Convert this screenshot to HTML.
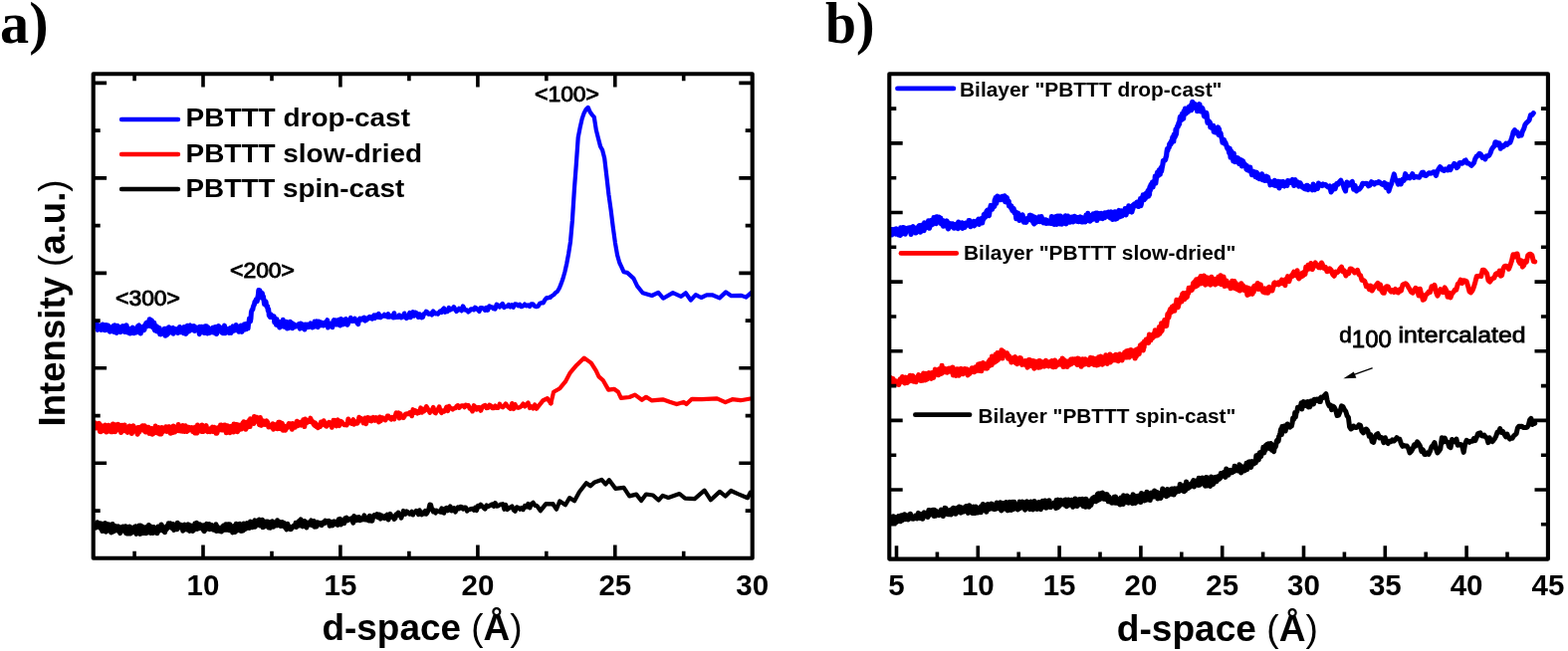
<!DOCTYPE html>
<html><head><meta charset="utf-8"><title>XRD d-space</title><style>
html,body{margin:0;padding:0;background:#fff;width:1575px;height:654px;overflow:hidden}
svg{display:block}
.ax{fill:none;stroke:#000;stroke-width:4.1;stroke-linejoin:round}
.tk{fill:none;stroke:#000;stroke-width:3.6;stroke-linecap:butt}
text{font-family:"Liberation Sans",Arial,sans-serif;fill:#000}
.pl{font-family:"Liberation Serif","Times New Roman",serif;font-weight:bold;font-size:58.5px}
.tl{font-weight:bold;font-size:29.5px}
.at{font-weight:bold;font-size:36.5px}
.lg{font-weight:bold;font-size:26.5px}
.pk{font-size:21.5px;stroke:#000;stroke-width:0.9px}
.lb{font-weight:bold;font-size:19.5px}
.rp{font-weight:normal}
.an{font-size:22.5px;stroke:#000;stroke-width:0.8px}
</style></head><body>
<svg width="1575" height="654" viewBox="0 0 1575 654">
<rect width="1575" height="654" fill="#fff"/>
<defs><clipPath id="ca"><rect x="93.7" y="74.2" width="662" height="486.6"/></clipPath><clipPath id="cb"><rect x="893.3" y="74.3" width="661.6" height="487.3"/></clipPath></defs>
<g clip-path="url(#ca)">
<path d="M95.0 327.0L95.5 327.9 95.9 326.7 96.4 325.5 96.8 326.7 97.3 325.6 97.7 328.2 98.2 331.3 98.6 327.3 99.1 327.2 99.5 329.9 100.0 329.8 100.4 329.4 100.9 327.2 101.3 329.5 101.8 331.3 102.2 326.8 102.7 329.0 103.1 326.1 103.6 327.5 104.0 326.5 104.5 330.2 104.9 328.0 105.4 331.6 105.8 331.3 106.3 330.5 106.7 326.7 107.2 329.6 107.6 330.7 108.1 331.1 108.5 327.2 109.0 329.6 109.4 328.5 109.9 328.8 110.3 333.1 110.8 328.8 111.2 330.5 111.7 332.6 112.1 329.2 112.6 330.2 113.0 330.7 113.5 330.6 113.9 327.6 114.4 330.6 114.8 333.5 115.3 326.8 115.7 332.3 116.2 330.5 116.6 328.8 117.1 334.3 117.5 331.9 118.0 327.4 118.4 330.3 118.9 331.4 119.3 329.6 119.8 331.6 120.2 329.9 120.7 331.6 121.1 333.5 121.6 328.7 122.0 330.7 122.5 329.3 122.9 330.7 123.4 327.7 123.8 329.2 124.3 330.1 124.7 332.7 125.2 333.3 125.6 327.7 126.1 329.0 126.5 332.4 127.0 326.8 127.4 329.9 127.9 330.8 128.3 334.0 128.8 332.8 129.2 330.5 129.7 330.4 130.1 330.8 130.6 334.9 131.0 330.5 131.5 330.8 131.9 332.4 132.4 331.4 132.8 331.3 133.3 329.2 133.7 331.8 134.2 330.9 134.6 334.6 135.1 333.5 135.5 331.8 136.0 333.3 136.4 330.9 136.8 334.0 137.3 331.5 137.7 332.8 138.2 328.4 138.6 332.1 139.1 327.3 139.5 327.0 140.0 330.3 140.4 328.8 140.9 331.2 141.3 334.9 141.8 328.7 142.2 329.1 142.7 330.9 143.1 331.5 143.6 329.9 144.0 329.7 144.5 331.7 144.9 331.2 145.4 327.0 145.8 328.5 146.3 328.1 146.7 324.9 147.2 327.3 147.6 324.1 148.1 327.6 148.5 325.1 149.0 324.2 149.4 322.9 149.9 324.3 150.3 320.8 150.8 322.6 151.2 326.3 151.7 321.7 152.1 328.0 152.6 322.4 153.0 328.4 153.5 325.1 153.9 329.1 154.4 327.9 154.8 324.4 155.3 331.1" fill="none" stroke="#0000ff" stroke-width="5.2" stroke-linejoin="round" stroke-linecap="round"/>
<path d="M155.3 331.1L155.7 332.0 156.2 328.9 156.6 328.8 157.1 329.4 157.5 327.9 158.0 333.1 158.4 329.7 158.9 331.2 159.3 329.9 159.8 330.7 160.2 329.6 160.7 335.8 161.1 332.9 161.6 335.9 162.0 334.0 162.5 332.3 162.9 333.1 163.4 332.5 163.8 333.7 164.3 332.8 164.7 332.9 165.2 330.3 165.6 331.6 166.1 337.2 166.5 331.8 167.0 330.8 167.4 333.9 167.9 336.3 168.3 329.7 168.8 332.5 169.2 331.4 169.7 328.8 170.1 334.4 170.6 332.6 171.0 332.8 171.5 330.8 171.9 333.5 172.4 331.2 172.8 332.0 173.3 329.7 173.7 329.4 174.2 335.2 174.6 330.9 175.1 332.7 175.5 331.9 176.0 330.9 176.4 330.7 176.9 333.3 177.3 331.1 177.8 331.5 178.2 331.8 178.7 334.5 179.1 333.3 179.6 332.6 180.0 330.4 180.5 328.5 180.9 333.8 181.4 333.8 181.8 331.2 182.3 332.8 182.7 333.3 183.2 333.4 183.6 333.5 184.1 330.3 184.5 334.8 185.0 328.5 185.4 333.3 185.9 332.4 186.3 333.3 186.8 335.4 187.2 334.6 187.7 328.5 188.1 327.2 188.6 333.0 189.0 328.7 189.5 331.0 189.9 332.9 190.4 327.2 190.8 326.9 191.3 331.7 191.7 331.2 192.2 330.5 192.6 331.2 193.1 329.2 193.5 327.7 194.0 330.8 194.4 329.0 194.9 327.5 195.3 332.4 195.8 331.1 196.2 332.2 196.7 329.1 197.1 329.8 197.6 329.1 198.0 329.4 198.5 331.9 198.9 329.6 199.4 332.3 199.8 332.3 200.3 335.7 200.7 328.3 201.2 333.6 201.6 331.4 202.1 331.6 202.5 328.3 203.0 330.6 203.4 333.4 203.9 331.5 204.3 331.9 204.8 331.1 205.2 334.4 205.7 331.7 206.1 327.7 206.6 330.2 207.0 327.7 207.5 327.7 207.9 330.7 208.4 335.0 208.8 332.1 209.3 329.3 209.7 329.8 210.2 334.6 210.6 332.3 211.1 332.1 211.5 331.8 212.0 332.0 212.4 333.7 212.9 333.1 213.3 332.3 213.8 329.4 214.2 333.0 214.7 330.2 215.1 334.3 215.6 328.8 216.0 331.4 216.5 331.7 216.9 328.6 217.4 335.6 217.8 335.0 218.3 330.5 218.7 333.3 219.2 332.4 219.6 327.4 220.1 332.1 220.5 331.3 221.0 331.6 221.4 329.0 221.9 330.8 222.3 331.0 222.8 334.1 223.2 332.1 223.7 331.3 224.1 334.8 224.6 330.0 225.0 330.4 225.5 327.1 225.9 334.8 226.4 333.4 226.8 333.3 227.3 332.7 227.7 331.4 228.2 331.6 228.6 330.5 229.1 330.6 229.5 331.1 230.0 334.5 230.4 332.2 230.9 330.7 231.3 329.5 231.8 329.3 232.2 334.4 232.7 331.8 233.1 330.7 233.6 329.7 234.0 327.9 234.5 330.2 234.9 332.3 235.4 329.4 235.8 329.7 236.3 329.7 236.7 330.4 237.2 326.4 237.6 329.4 238.1 328.0 238.5 331.9 239.0 328.0 239.4 331.1 239.9 333.2 240.3 328.9 240.8 328.2 241.2 329.9 241.7 329.4 242.2 327.1 242.6 330.4 243.1 333.4 243.5 328.6 244.0 328.7 244.4 326.7 244.9 329.7 245.4 325.8 245.8 325.8 246.3 330.9 246.7 325.5 247.2 329.7 247.7 330.4 248.2 327.1 248.6 327.4 249.1 329.9 249.6 324.9 250.0 323.5 250.5 319.9 251.0 321.3 251.5 322.8 252.0 319.8 252.4 313.6 252.9 311.9 253.4 310.9 253.9 310.9 254.4 307.9 254.9 307.0 255.4 305.9 255.9 303.4 256.3 302.9 256.8 302.4 257.3 300.7 257.8 300.9 258.3 302.8 258.8 298.9 259.3 296.6 259.8 291.5 260.4 296.2 260.9 291.8 261.4 293.2 261.9 298.8 262.4 299.0 262.9 297.6 263.4 294.5 263.9 298.1 264.5 297.9 265.0 301.4 265.5 305.5 266.0 303.4 266.5 302.6 267.1 303.2 267.6 307.2 268.1 308.4 268.7 307.7 269.2 312.0 269.7 310.7 270.3 316.9 270.8 317.5 271.3 318.3 271.9 315.6 272.4 318.6 273.0 317.9 273.5 318.1 274.1 318.9 274.6 317.5 275.2 318.0 275.7 323.7 276.3 322.1 276.8 323.7 277.4 326.1 278.0 320.7 278.5 323.5 279.1 326.3 279.7 327.5 280.2 326.1 280.8 329.0 281.4 326.9 281.9 323.5 282.5 323.9 283.1 327.6 283.7 326.6 284.3 321.3 284.8 328.1 285.4 326.5" fill="none" stroke="#0000ff" stroke-width="5.0" stroke-linejoin="round" stroke-linecap="round"/>
<path d="M285.4 326.5L286.0 328.3 286.6 324.6 287.2 325.0 287.8 323.3 288.4 330.0 289.0 325.7 289.6 329.8 290.2 325.0 290.8 327.0 291.4 323.1 292.0 326.1 292.6 329.3 293.2 324.5 293.8 329.9 294.4 328.4 295.1 325.5 295.7 326.9 296.3 327.2 296.9 328.2 297.5 327.3 298.2 326.7 298.8 327.8 299.4 326.2 300.1 325.5 300.7 328.2 301.3 330.2 302.0 324.8 302.6 328.1 303.3 326.6 303.9 325.8 304.6 329.8 305.2 326.7 305.9 331.1 306.5 326.0 307.2 328.5 307.8 327.1 308.5 325.9 309.2 328.7 309.8 327.0 310.5 328.6 311.2 327.1 311.9 324.8 312.5 326.9 313.2 327.2 313.9 329.1 314.6 324.9 315.3 326.7 316.0 323.0 316.6 328.1 317.3 324.3 318.0 322.7 318.7 326.4 319.4 328.8 320.1 323.0 320.9 323.9 321.6 324.6 322.3 323.7 323.0 326.9 323.7 324.2 324.4 324.4 325.1 327.1 325.9 324.1 326.6 326.6 327.3 323.5 328.1 322.9 328.8 321.6 329.5 329.2 330.3 324.6 331.0 325.8 331.8 325.1 332.5 325.4 333.3 325.1 334.0 328.8 334.8 322.6 335.5 321.5 336.3 322.5 337.1 321.8 337.8 326.1 338.6 326.2 339.4 322.3 340.2 321.4 340.9 323.5 341.7 327.1 342.5 320.3 343.3 325.1 344.1 321.6 344.9 326.0 345.7 321.5 346.5 323.1 347.3 320.4 348.1 321.4 348.9 326.3 349.7 325.1 350.5 322.4 351.4 321.3 352.2 319.3 353.0 322.1 353.9 322.7 354.7 322.5 355.5 322.4 356.4 320.1 357.2 322.2 358.1 322.1 358.9 324.7 359.8 325.7 360.6 321.5 361.5 320.1 362.3 321.4 363.2 320.2 364.1 319.8 364.9 321.1 365.8 318.9 366.7 322.2 367.6 320.6 368.5 321.2 369.4 320.2 370.3 318.9 371.2 318.3 372.1 319.6 373.0 318.9 373.9 320.3 374.8 319.7 375.7 316.8 376.6 319.6 377.6 316.6 378.5 317.9 379.4 318.4 380.4 315.2 381.3 318.9 382.2 318.9 383.2 318.1 384.1 317.4 385.1 317.4 386.1 316.1 387.0 317.4 388.0 316.8 389.0 318.1 389.9 315.5 390.9 318.4 391.9 318.2 392.9 317.6 393.9 317.0 394.9 319.0 395.9 314.6 396.9 318.8 397.9 318.4 398.9 318.5" fill="none" stroke="#0000ff" stroke-width="4.8" stroke-linejoin="round" stroke-linecap="round"/>
<path d="M398.9 318.5L399.9 318.6 401.0 316.6 402.0 317.4 403.0 319.1 404.1 318.7 405.1 318.2 406.2 314.8 407.2 318.7 408.3 319.8 409.3 319.3 410.4 317.7 411.5 314.2 412.5 318.9 413.6 316.7 414.7 313.4 415.8 317.5 416.9 313.8 418.0 314.1 419.1 315.2 420.2 318.7 421.3 315.5 422.4 316.6 423.5 319.2 424.7 318.7 425.8 315.4 426.9 314.9 428.1 312.9 429.2 313.7 430.4 315.6 431.5 315.4 432.7 314.7 433.9 316.2 435.1 312.7 436.2 313.9 437.4 315.1 438.6 314.7 439.8 315.4 441.0 314.0 442.2 312.6 443.5 313.7 444.7 311.0 445.9 309.7 447.1 313.6 448.4 312.3 449.6 312.8 450.9 309.1 452.1 311.3 453.4 310.7 454.7 310.1 455.9 308.3 457.2 310.8 458.5 312.8 459.8 311.8 461.1 310.0 462.4 310.9 463.7 312.2 465.0 307.6 466.4 310.4 467.7 311.5 469.0 311.6 470.4 313.3 471.7 312.2 473.1 310.6 474.4 310.5 475.8 311.2 477.2 308.9 478.6 309.7 480.0 311.2 481.4 312.7 482.8 309.3 484.2 309.4 485.6 309.7 487.1 311.6 488.5 309.2 489.9 311.6 491.4 307.5 492.8 308.7 494.3 308.5 495.8 310.0 497.3 310.2" fill="none" stroke="#0000ff" stroke-width="4.6" stroke-linejoin="round" stroke-linecap="round"/>
<path d="M497.3 310.2L498.8 305.8 500.3 306.6 501.8 308.5 503.3 306.6 504.8 305.1 506.3 309.0 507.9 307.9 509.4 307.7 511.0 306.0 512.5 308.4 514.1 306.4 515.7 308.6 517.3 305.4 518.9 305.6 520.5 307.3 522.1 305.9 523.7 308.1 525.3 307.5 527.0 305.7 528.6 307.3 530.3 306.4 532.0 308.0 533.6 305.4 535.3 305.4 537.0 307.5 538.7 308.1 540.4 307.7 542.2 304.9 543.9 304.3 545.6 304.3 547.4 301.2 549.1 299.1 550.9 299.2 552.7 298.7" fill="none" stroke="#0000ff" stroke-width="4.4" stroke-linejoin="round" stroke-linecap="round"/>
<path d="M552.7 298.7L554.5 297.2 556.3 296.0 558.1 294.0 559.9 292.8 561.8 289.5 563.6 285.1 565.5 279.8 567.4 273.0 569.2 265.0 571.1 254.9 573.0 242.7 574.9 221.4 576.9 190.2 578.8 165.2 580.7 138.1 582.7 127.9 584.7 119.1 586.7 113.4 588.7 109.7 590.7 107.9 592.7 112.5 594.7 115.3 596.8 117.6 598.8 130.5 600.9 138.8 603.0 146.9 605.1 150.8 607.2 159.0 609.3 176.8 611.4 195.2 613.6 210.8 615.7 227.8 617.9 243.8 620.1 256.4 622.3 264.0 624.5 268.6 626.5 273.2 630.0 273.9 636.4 279.6 640.1 287.4 645.6 294.2 654.8 297.0 661.2 293.9 666.2 299.7 675.9 294.1 684.1 297.8 688.7 294.3 693.8 301.5 698.8 296.1 704.3 299.0 709.8 296.3 715.3 296.3 722.7 299.4 729.1 293.4 734.6 297.2 744.7 296.9 749.3 298.6 754.8 293.9" fill="none" stroke="#0000ff" stroke-width="4.2" stroke-linejoin="round" stroke-linecap="round"/>
<path d="M94.6 427.8L95.0 429.2 95.5 424.9 96.0 429.9 96.4 425.6 96.9 429.8 97.3 428.9 97.8 428.5 98.2 429.1 98.7 428.0 99.1 427.9 99.6 425.5 100.0 429.3 100.5 433.5 100.9 433.6 101.4 432.5 101.8 431.1 102.3 427.9 102.7 432.8 103.2 429.4 103.6 429.4 104.1 428.9 104.5 429.9 105.0 428.7 105.4 429.5 105.9 427.2 106.3 428.9 106.8 433.9 107.2 429.7 107.7 429.3 108.1 431.1 108.6 431.5 109.0 427.4 109.5 429.5 109.9 432.1 110.4 430.7 110.8 430.3 111.3 433.7 111.7 428.6 112.2 430.3 112.6 429.0 113.1 433.6 113.5 426.1 114.0 428.7 114.4 429.1 114.9 431.9 115.3 431.8 115.8 433.6 116.2 426.8 116.7 432.2 117.1 429.9 117.6 429.0 118.0 431.8 118.5 428.5 118.9 426.5 119.4 429.9 119.8 427.3 120.3 429.3 120.7 431.7 121.2 431.6 121.6 434.5 122.1 430.5 122.5 427.4 123.0 429.3 123.4 428.9 123.9 428.3 124.3 432.1 124.8 429.7 125.2 427.0 125.7 432.8 126.1 431.0 126.6 432.1 127.0 431.6 127.5 432.8 127.9 431.5 128.4 434.3 128.8 432.4 129.3 432.4 129.7 432.5 130.2 428.2 130.6 431.2 131.1 431.0 131.5 432.1 132.0 428.6 132.4 435.5 132.9 432.0 133.3 429.0 133.8 427.9 134.2 431.2 134.7 431.7 135.1 430.3 135.6 432.2 136.0 430.5 136.4 433.3 136.9 430.3 137.3 431.9 137.8 434.3 138.2 436.1 138.7 429.7 139.1 430.9 139.6 430.1 140.0 433.8 140.5 429.4 140.9 430.9 141.4 431.9 141.8 429.7 142.3 429.8 142.7 430.9 143.2 427.9 143.6 428.7 144.1 431.1 144.5 432.3 145.0 431.6 145.4 427.9 145.9 430.9 146.3 433.8 146.8 433.3 147.2 431.8 147.7 430.0 148.1 433.5 148.6 430.7 149.0 429.3 149.5 430.2 149.9 435.3 150.4 432.5 150.8 434.7 151.3 430.9 151.7 434.2 152.2 430.6 152.6 431.6 153.1 436.1 153.5 433.8 154.0 430.8 154.4 431.8 154.9 432.8 155.3 434.8" fill="none" stroke="#ff0000" stroke-width="5.2" stroke-linejoin="round" stroke-linecap="round"/>
<path d="M155.3 434.8L155.8 430.9 156.2 428.0 156.7 431.4 157.1 432.0 157.6 432.3 158.0 435.0 158.5 432.7 158.9 433.8 159.4 429.4 159.8 433.9 160.3 436.0 160.7 433.6 161.2 432.4 161.6 432.2 162.1 435.9 162.5 429.6 163.0 431.5 163.4 432.7 163.9 433.4 164.3 430.6 164.8 432.3 165.2 430.9 165.7 431.8 166.1 431.2 166.6 428.8 167.0 431.4 167.5 433.4 167.9 429.2 168.4 430.8 168.8 432.9 169.3 428.8 169.7 431.7 170.2 428.8 170.6 433.8 171.1 435.3 171.5 435.3 172.0 430.6 172.4 432.8 172.9 431.3 173.3 431.3 173.8 434.6 174.2 427.9 174.7 433.4 175.1 430.8 175.6 434.1 176.0 431.3 176.5 429.3 176.9 431.4 177.4 432.5 177.8 430.8 178.3 431.8 178.7 429.5 179.2 426.5 179.6 432.7 180.1 432.2 180.5 430.9 181.0 430.7 181.4 432.9 181.9 429.5 182.3 428.9 182.8 430.1 183.2 433.3 183.7 427.4 184.1 433.3 184.6 429.1 185.0 428.1 185.5 433.5 185.9 430.4 186.4 427.7 186.8 429.8 187.3 432.8 187.7 433.4 188.2 429.7 188.6 431.7 189.1 432.4 189.5 429.3 190.0 431.6 190.4 430.7 190.9 429.6 191.3 429.7 191.8 431.0 192.2 430.9 192.7 429.5 193.1 429.9 193.6 433.4 194.0 431.4 194.5 432.9 194.9 433.7 195.4 432.3 195.8 435.1 196.3 429.1 196.7 432.8 197.2 430.3 197.6 435.1 198.1 434.9 198.5 426.9 199.0 428.8 199.4 432.6 199.9 432.9 200.3 432.8 200.8 430.9 201.2 432.2 201.7 432.6 202.1 431.0 202.6 433.5 203.0 427.0 203.5 432.6 203.9 428.8 204.4 433.4 204.8 430.7 205.3 429.2 205.7 432.1 206.2 429.1 206.6 429.1 207.1 427.6 207.5 431.1 208.0 432.3 208.4 433.6 208.9 430.9 209.3 433.6 209.8 431.2 210.2 431.0 210.7 432.5 211.1 433.6 211.6 430.4 212.0 430.6 212.5 430.8 212.9 431.4 213.4 429.1 213.8 433.6 214.3 430.3 214.7 432.3 215.2 429.3 215.6 432.0 216.1 432.1 216.5 430.2 217.0 435.3 217.4 432.1 217.9 435.3 218.3 433.4 218.8 429.7 219.2 430.3 219.7 432.2 220.1 431.3 220.6 431.3 221.0 430.5 221.5 427.1 221.9 430.7 222.4 427.1 222.8 432.1 223.3 429.5 223.7 429.6 224.2 430.7 224.6 431.8 225.1 427.9 225.5 427.2 226.0 428.7 226.4 427.1 226.9 429.0 227.3 434.8 227.8 428.7 228.2 432.5 228.7 427.8 229.1 431.6 229.6 430.1 230.0 430.6 230.5 432.0 230.9 434.7 231.4 431.0 231.8 430.8 232.3 428.2 232.7 431.7 233.2 429.8 233.6 432.2 234.1 430.1 234.5 434.1 235.0 425.9 235.4 429.3 235.9 432.0 236.3 429.1 236.8 428.0 237.2 429.1 237.7 426.5 238.1 429.9 238.6 433.7 239.0 432.1 239.5 426.9 239.9 427.3 240.4 428.4 240.8 431.5 241.3 427.3 241.8 427.5 242.2 431.1 242.7 430.9 243.1 427.8 243.6 426.0 244.0 424.8 244.5 426.5 244.9 423.8 245.4 429.5 245.9 426.1 246.3 428.5 246.8 431.3 247.3 429.7 247.7 424.2 248.2 428.6 248.7 429.1 249.1 424.5 249.6 423.9 250.1 425.6 250.6 421.9 251.1 428.6 251.5 420.8 252.0 422.1 252.5 423.8 253.0 423.6 253.5 424.2 253.9 424.1 254.4 422.7 254.9 425.5 255.4 418.5 255.9 422.3 256.4 420.4 256.9 422.0 257.4 421.9 257.9 419.3 258.4 420.2 258.9 423.6 259.4 422.8 259.9 420.7 260.4 426.5 260.9 426.8 261.4 419.5 261.9 423.8 262.5 427.4 263.0 425.3 263.5 424.2 264.0 423.4 264.5 422.9 265.0 423.9 265.6 423.3 266.1 426.5 266.6 424.2 267.1 424.4 267.7 422.9 268.2 425.8 268.7 424.1 269.3 426.0 269.8 429.0 270.3 427.8 270.9 428.3 271.4 428.3 272.0 427.9 272.5 427.7 273.0 427.5 273.6 429.9 274.1 425.8 274.7 431.2 275.2 428.3 275.8 426.5 276.3 427.1 276.9 426.7 277.5 428.6 278.0 426.6 278.6 430.8 279.2 426.4 279.7 424.2 280.3 426.6 280.9 424.2 281.4 428.1 282.0 430.6 282.6 429.6 283.2 425.2 283.7 426.5 284.3 432.2 284.9 428.9 285.5 428.2" fill="none" stroke="#ff0000" stroke-width="5.0" stroke-linejoin="round" stroke-linecap="round"/>
<path d="M285.5 428.2L286.1 430.6 286.7 432.2 287.3 431.1 287.8 428.5 288.4 428.9 289.0 429.4 289.6 426.6 290.2 425.5 290.8 427.9 291.4 425.6 292.1 427.5 292.7 427.7 293.3 431.4 293.9 425.4 294.5 427.0 295.1 426.8 295.7 428.0 296.4 429.3 297.0 425.8 297.6 424.9 298.2 423.1 298.9 424.5 299.5 427.7 300.1 426.5 300.8 424.1 301.4 425.4 302.1 426.2 302.7 427.1 303.3 424.6 304.0 425.1 304.6 421.6 305.3 422.8 305.9 428.7 306.6 421.0 307.3 424.0 307.9 425.0 308.6 423.5 309.2 422.4 309.9 423.8 310.6 423.7 311.3 423.5 311.9 420.0 312.6 423.9 313.3 422.6 314.0 423.5 314.7 425.5 315.3 426.6 316.0 427.4 316.7 424.7 317.4 428.0 318.1 428.8 318.8 429.0 319.5 429.8 320.2 426.7 320.9 426.5 321.6 428.6 322.4 423.8 323.1 427.1 323.8 425.5 324.5 425.8 325.2 422.7 326.0 424.5 326.7 426.3 327.4 428.2 328.1 428.3 328.9 425.9 329.6 425.6 330.4 424.2 331.1 426.7 331.8 425.3 332.6 427.0 333.4 429.4 334.1 425.5 334.9 422.3 335.6 423.6 336.4 422.3 337.2 422.7 337.9 428.0 338.7 425.6 339.5 421.8 340.2 426.4 341.0 427.6 341.8 424.0 342.6 423.3 343.4 423.9 344.2 425.2 345.0 425.8 345.8 426.9 346.6 426.9 347.4 426.7 348.2 427.0 349.0 425.5 349.8 420.8 350.6 423.6 351.5 424.5 352.3 423.0 353.1 425.6 353.9 422.8 354.8 421.6 355.6 426.4 356.5 424.7 357.3 423.7 358.1 425.1 359.0 425.3 359.8 423.7 360.7 419.2 361.6 421.4 362.4 421.8 363.3 420.6 364.2 423.0 365.0 424.9 365.9 421.4 366.8 419.9 367.7 425.8 368.6 421.1 369.5 419.4 370.4 422.3 371.3 422.5 372.2 420.1 373.1 423.0 374.0 420.3 374.9 419.3 375.8 421.4 376.7 422.5 377.7 419.5 378.6 421.3 379.5 420.3 380.5 424.0 381.4 418.9 382.3 422.9 383.3 419.9 384.2 419.6 385.2 421.2 386.2 421.4 387.1 422.0 388.1 420.0 389.1 418.0 390.1 418.0 391.0 419.9 392.0 419.9 393.0 421.3 394.0 419.2 395.0 420.3 396.0 421.0 397.0 418.2 398.0 414.8 399.0 415.3" fill="none" stroke="#ff0000" stroke-width="4.8" stroke-linejoin="round" stroke-linecap="round"/>
<path d="M399.0 415.3L400.1 414.6 401.1 420.3 402.1 415.4 403.1 419.3 404.2 417.8 405.2 419.8 406.3 418.3 407.3 416.0 408.4 415.6 409.4 416.0 410.5 416.0 411.6 414.4 412.6 415.1 413.7 418.0 414.8 411.4 415.9 414.9 417.0 412.4 418.1 414.2 419.2 415.2 420.3 413.2 421.4 414.5 422.5 409.7 423.7 414.5 424.8 411.0 425.9 413.1 427.1 412.0 428.2 408.3 429.4 410.3 430.5 412.1 431.7 414.6 432.8 412.2 434.0 412.2 435.2 409.1 436.4 414.3 437.6 415.0 438.8 411.8 440.0 411.3 441.2 408.7 442.4 413.2 443.6 414.7 444.8 412.6 446.0 413.4 447.3 411.9 448.5 408.9 449.8 412.9 451.0 408.1 452.3 409.8 453.5 410.4 454.8 411.3 456.1 410.3 457.4 410.1 458.6 408.1 459.9 407.3 461.2 409.7 462.5 408.4 463.9 407.5 465.2 407.6 466.5 409.0 467.8 406.8 469.2 407.7 470.5 407.3 471.9 410.5 473.2 410.9 474.6 413.2 476.0 407.4 477.4 408.8 478.7 411.4 480.1 409.4 481.5 409.2 482.9 412.5 484.4 409.0 485.8 407.6 487.2 407.2 488.7 409.9 490.1 409.8 491.6 406.9 493.0 407.5 494.5 410.0 496.0 410.0 497.4 407.9" fill="none" stroke="#ff0000" stroke-width="4.6" stroke-linejoin="round" stroke-linecap="round"/>
<path d="M497.4 407.9L498.9 409.9 500.4 409.7 501.9 405.8 503.4 408.2 505.0 409.3 506.5 407.6 508.0 405.5 509.6 407.9 511.1 409.5 512.7 410.7 514.3 405.2 515.9 410.9 517.4 406.2 519.0 409.4 520.6 409.7 522.3 409.2 523.9 407.8 525.5 405.7 527.2 408.4 528.8 406.2 530.5 404.5 532.1 409.9 533.8 408.3 535.5 410.3 537.2 406.6 538.9 410.6 540.0 409.2 545.6 402.2 549.8 400.2 553.3 405.3" fill="none" stroke="#ff0000" stroke-width="4.4" stroke-linejoin="round" stroke-linecap="round"/>
<path d="M553.3 405.3L556.1 393.8 562.3 390.2 567.9 383.4 572.8 374.3 579.1 366.9 586.8 359.6 593.8 364.6 598.7 372.3 601.5 378.3 605.7 382.0 611.2 391.6 616.8 390.8 621.0 393.8 623.8 399.9 632.2 399.0 637.8 396.6 644.8 401.8 649.0 398.8 654.5 402.3 665.7 401.3 672.7 403.8 679.7 406.1 686.7 403.9 689.5 406.0 695.0 400.8 704.8 401.1 720.2 400.4 728.6 404.1 735.6 401.2 743.9 402.2 753.7 400.5" fill="none" stroke="#ff0000" stroke-width="4.2" stroke-linejoin="round" stroke-linecap="round"/>
<path d="M95.5 529.2L96.0 529.2 96.4 530.0 96.9 527.3 97.3 527.8 97.8 524.8 98.2 527.8 98.7 525.6 99.1 528.6 99.6 526.8 100.0 529.3 100.5 530.2 100.9 525.9 101.4 527.4 101.8 527.2 102.3 531.1 102.7 533.4 103.2 531.5 103.6 528.8 104.1 533.0 104.5 526.2 105.0 533.2 105.4 528.3 105.9 525.7 106.3 534.1 106.8 533.6 107.2 527.7 107.7 530.5 108.1 529.7 108.6 530.5 109.0 526.9 109.5 528.8 109.9 531.5 110.4 531.0 110.8 533.3 111.3 530.8 111.7 534.8 112.2 529.1 112.6 531.4 113.1 526.7 113.5 528.0 114.0 533.9 114.4 528.7 114.9 532.1 115.3 530.8 115.8 528.6 116.2 530.2 116.7 529.9 117.1 530.0 117.6 532.8 118.0 532.6 118.5 529.8 118.9 529.1 119.4 531.9 119.8 531.0 120.3 533.6 120.7 535.5 121.2 533.3 121.6 531.3 122.1 531.0 122.5 529.5 123.0 529.4 123.4 529.2 123.9 530.6 124.3 530.6 124.8 533.3 125.2 530.7 125.7 531.2 126.1 528.9 126.6 535.5 127.0 532.9 127.5 535.9 127.9 533.6 128.4 535.2 128.8 531.3 129.3 533.5 129.7 536.0 130.2 529.1 130.6 534.7 131.1 535.9 131.5 533.0 132.0 533.8 132.4 535.0 132.9 530.6 133.3 533.1 133.8 530.1 134.2 530.6 134.7 530.8 135.1 531.9 135.6 532.6 136.0 533.4 136.4 528.9 136.9 536.4 137.3 535.0 137.8 533.9 138.2 531.4 138.7 532.0 139.1 533.5 139.6 533.2 140.0 528.2 140.5 533.9 140.9 536.3 141.4 528.0 141.8 534.5 142.3 533.0 142.7 531.8 143.2 535.3 143.6 529.3 144.1 532.4 144.5 535.5 145.0 531.6 145.4 531.0 145.9 532.3 146.3 530.9 146.8 535.6 147.2 529.8 147.7 534.0 148.1 529.0 148.6 533.5 149.0 531.6 149.5 527.7 149.9 531.9 150.4 529.3 150.8 530.8 151.3 535.5 151.7 529.2 152.2 529.3 152.6 535.2 153.1 532.0 153.5 535.4 154.0 532.5 154.4 529.6 154.9 531.6 155.3 534.6" fill="none" stroke="#000000" stroke-width="5.2" stroke-linejoin="round" stroke-linecap="round"/>
<path d="M155.3 534.6L155.8 533.9 156.2 531.7 156.7 531.8 157.1 531.4 157.6 530.3 158.0 535.8 158.5 531.6 158.9 528.9 159.4 530.4 159.8 533.1 160.3 532.9 160.7 531.0 161.2 529.6 161.6 531.2 162.1 527.1 162.5 527.9 163.0 532.8 163.4 529.7 163.9 531.7 164.3 533.6 164.8 532.2 165.2 530.6 165.7 534.7 166.1 532.0 166.6 529.6 167.0 532.1 167.5 531.2 167.9 528.2 168.4 530.3 168.8 529.7 169.3 525.8 169.7 529.5 170.2 529.2 170.6 528.7 171.1 525.8 171.5 528.8 172.0 529.5 172.4 529.7 172.9 526.8 173.3 530.9 173.8 526.4 174.2 528.8 174.7 532.4 175.1 527.7 175.6 528.1 176.0 531.8 176.5 528.4 176.9 528.6 177.4 529.8 177.8 531.8 178.3 525.2 178.7 527.3 179.2 526.9 179.6 526.7 180.1 527.3 180.5 527.3 181.0 530.0 181.4 527.2 181.9 529.6 182.3 530.2 182.8 527.6 183.2 529.6 183.7 533.2 184.1 530.1 184.6 527.8 185.0 529.1 185.5 527.1 185.9 529.9 186.4 531.3 186.8 527.4 187.3 528.8 187.7 531.9 188.2 528.1 188.6 529.7 189.1 526.9 189.5 527.4 190.0 528.1 190.4 533.4 190.9 528.4 191.3 528.1 191.8 528.0 192.2 528.9 192.7 530.8 193.1 529.7 193.6 533.4 194.0 529.8 194.5 532.6 194.9 529.9 195.4 530.7 195.8 526.0 196.3 529.0 196.7 529.1 197.2 528.8 197.6 525.3 198.1 531.5 198.5 528.6 199.0 528.5 199.4 529.0 199.9 529.1 200.3 530.6 200.8 526.8 201.2 527.6 201.7 530.5 202.1 530.2 202.6 529.0 203.0 528.6 203.5 528.1 203.9 529.9 204.4 532.8 204.8 527.7 205.3 533.7 205.7 532.1 206.2 529.2 206.6 532.1 207.1 527.0 207.5 526.4 208.0 527.4 208.4 529.5 208.9 529.8 209.3 529.4 209.8 530.8 210.2 526.5 210.7 531.8 211.1 527.5 211.6 529.3 212.0 529.9 212.5 528.1 212.9 527.6 213.4 528.5 213.8 530.8 214.3 532.2 214.7 532.1 215.2 528.5 215.6 529.0 216.1 528.7 216.5 531.8 217.0 526.7 217.4 533.6 217.9 529.7 218.3 529.0 218.8 531.6 219.2 533.2 219.7 531.6 220.1 533.2 220.6 531.1 221.0 533.6 221.5 533.7 221.9 530.6 222.4 534.1 222.8 531.2 223.3 531.0 223.7 528.7 224.2 530.1 224.6 532.6 225.1 527.8 225.5 532.3 226.0 531.6 226.4 531.4 226.9 526.7 227.3 530.6 227.8 532.3 228.2 529.0 228.7 531.0 229.1 526.7 229.6 532.3 230.0 529.3 230.5 532.8 230.9 526.7 231.4 532.4 231.8 530.3 232.3 532.7 232.7 528.7 233.2 529.4 233.6 534.9 234.1 528.9 234.5 529.2 235.0 530.1 235.4 528.3 235.9 533.3 236.3 534.5 236.8 528.8 237.2 526.3 237.7 532.9 238.1 532.7 238.6 531.9 239.0 532.6 239.5 527.9 239.9 529.4 240.4 526.5 240.8 526.3 241.3 531.8 241.8 527.9 242.2 533.5 242.7 529.4 243.1 527.7 243.6 530.9 244.0 533.1 244.5 530.0 244.9 526.0 245.4 529.6 245.9 531.8 246.3 527.4 246.8 526.7 247.3 530.7 247.7 528.6 248.2 525.6 248.7 527.2 249.1 526.2 249.6 528.6 250.1 528.0 250.6 530.4 251.1 529.3 251.5 524.0 252.0 528.4 252.5 529.5 253.0 528.4 253.5 529.6 253.9 525.9 254.4 525.0 254.9 529.2 255.4 524.5 255.9 522.8 256.4 529.2 256.9 525.1 257.4 526.0 257.9 523.4 258.4 523.5 258.9 523.8 259.4 525.6 259.9 527.1 260.4 522.1 260.9 527.9 261.4 523.4 261.9 523.6 262.5 527.5 263.0 525.7 263.5 522.3 264.0 529.8 264.5 523.6 265.0 526.1 265.6 526.0 266.1 528.8 266.6 524.6 267.1 528.0 267.7 524.1 268.2 528.3 268.7 524.1 269.3 525.1 269.8 530.0 270.3 526.7 270.9 526.3 271.4 530.2 272.0 527.0 272.5 524.4 273.0 527.9 273.6 523.7 274.1 528.9 274.7 529.1 275.2 525.2 275.8 525.1 276.3 527.0 276.9 526.7 277.5 524.5 278.0 528.0 278.6 522.8 279.2 525.9 279.7 526.0 280.3 526.4 280.9 527.8 281.4 524.4 282.0 528.6 282.6 527.0 283.2 526.0 283.7 524.6 284.3 525.1 284.9 528.6 285.5 525.8" fill="none" stroke="#000000" stroke-width="5.0" stroke-linejoin="round" stroke-linecap="round"/>
<path d="M285.5 525.8L286.1 528.2 286.7 530.5 287.3 530.6 287.8 531.9 288.4 527.8 289.0 526.2 289.6 531.0 290.2 529.5 290.8 531.4 291.4 529.1 292.1 531.8 292.7 531.2 293.3 530.5 293.9 529.6 294.5 528.9 295.1 528.1 295.7 527.7 296.4 528.9 297.0 525.2 297.6 529.7 298.2 525.2 298.9 527.2 299.5 524.4 300.1 523.6 300.8 528.1 301.4 523.6 302.1 521.7 302.7 523.1 303.3 524.2 304.0 529.0 304.6 525.7 305.3 527.4 305.9 523.4 306.6 526.5 307.3 527.4 307.9 530.1 308.6 524.8 309.2 527.8 309.9 527.4 310.6 524.7 311.3 526.9 311.9 526.3 312.6 522.8 313.3 527.9 314.0 527.7 314.7 525.5 315.3 523.4 316.0 529.4 316.7 526.7 317.4 528.2 318.1 528.9 318.8 524.7 319.5 527.4 320.2 525.1 320.9 525.4 321.6 525.3 322.4 525.4 323.1 527.7 323.8 525.5 324.5 524.8 325.2 524.5 326.0 525.7 326.7 523.0 327.4 523.8 328.1 524.7 328.9 523.5 329.6 524.4 330.4 523.3 331.1 528.4 331.8 527.3 332.6 525.3 333.4 524.2 334.1 528.0 334.9 524.8 335.6 523.9 336.4 524.6 337.2 524.6 337.9 526.8 338.7 523.7 339.5 527.5 340.2 521.7 341.0 525.0 341.8 521.3 342.6 527.2 343.4 522.6 344.2 523.1 345.0 525.1 345.8 525.7 346.6 520.6 347.4 522.2 348.2 519.9 349.0 523.0 349.8 522.5 350.6 521.9 351.5 521.1 352.3 521.6 353.1 520.8 353.9 523.3 354.8 525.3 355.6 518.3 356.5 521.7 357.3 521.0 358.1 522.8 359.0 519.7 359.8 521.3 360.7 519.4 361.6 522.9 362.4 521.5 363.3 520.9 364.2 521.9 365.0 520.6 365.9 517.8 366.8 522.1 367.7 521.4 368.6 520.4 369.5 522.6 370.4 523.0 371.3 518.2 372.2 518.8 373.1 523.4 374.0 523.1 374.9 518.6 375.8 517.6 376.7 518.6 377.7 518.8 378.6 516.5 379.5 519.7 380.5 517.0 381.4 517.0 382.3 521.2 383.3 517.9 384.2 519.0 385.2 520.3 386.2 520.6 387.1 518.2 388.1 518.9 389.1 517.1 390.1 522.1 391.0 519.8 392.0 516.2 393.0 518.3 394.0 519.6 395.0 519.1 396.0 521.6 397.0 520.6 398.0 516.7 399.0 517.4" fill="none" stroke="#000000" stroke-width="4.8" stroke-linejoin="round" stroke-linecap="round"/>
<path d="M399.0 517.4L400.1 514.9 401.1 517.7 402.1 517.4 403.1 520.4 404.2 517.0 405.2 513.2 406.3 515.2 407.3 516.5 408.4 513.7 409.4 514.3 410.5 515.1 411.6 516.4 412.6 515.4 413.7 514.0 414.8 517.2 415.9 514.7 417.0 514.8 418.1 513.1 419.2 514.2 420.3 516.9 421.4 512.6 422.5 515.6 423.7 517.0 424.8 515.0 425.9 516.1 427.1 513.2 428.2 516.5 429.4 514.8 430.5 511.9 431.7 506.9 432.8 507.0 434.0 511.8 435.2 514.1 436.4 512.6 437.6 515.3 438.8 513.0 440.0 513.7 441.2 513.8 442.4 514.4 443.6 510.6 444.8 514.9 446.0 515.4 447.3 510.7 448.5 510.1 449.8 513.0 451.0 511.0 452.3 508.7 453.5 513.2 454.8 511.8 456.1 510.4 457.4 514.3 458.6 511.3 459.9 509.6 461.2 511.1 462.5 509.0 463.9 509.5 465.2 511.4 466.5 509.7 467.8 509.8 469.2 513.4 470.5 512.0 471.9 511.8 473.2 511.2 474.6 511.0 476.0 512.5 477.4 509.9 478.7 512.8 480.1 508.0 481.5 509.1 482.9 507.0 484.4 508.6 485.8 510.0 487.2 511.4 488.7 507.7 490.1 508.8 491.6 508.1 493.0 507.4 494.5 506.6 496.0 508.6 497.4 505.5" fill="none" stroke="#000000" stroke-width="4.6" stroke-linejoin="round" stroke-linecap="round"/>
<path d="M497.4 505.5L498.9 508.5 500.4 508.3 501.9 507.1 503.4 506.6 505.0 506.3 506.5 511.7 508.0 507.0 509.6 511.9 511.1 510.7 512.7 509.5 514.3 508.5 515.9 512.3 517.4 513.7 519.0 509.4 520.6 510.0 522.3 511.7 523.9 510.2 525.5 512.0 527.2 508.0 528.8 509.3 530.5 506.1 532.1 510.3 533.8 506.3 535.5 504.9 537.2 507.7 538.9 507.9 540.0 509.1 542.8 513.1 548.4 506.2 555.4 506.4" fill="none" stroke="#000000" stroke-width="4.4" stroke-linejoin="round" stroke-linecap="round"/>
<path d="M555.4 506.4L558.9 511.7 562.3 503.4 567.9 507.3 572.1 500.1 577.0 503.3 581.9 494.3 588.9 485.3 593.1 488.3 597.3 484.4 604.3 481.9 608.4 486.5 611.9 482.2 618.2 490.8 626.6 489.8 632.2 498.4 639.2 496.6 644.1 503.0 649.0 496.5 655.9 497.5 661.5 502.5 665.7 497.9 671.3 500.0 682.5 496.0 688.1 500.7 697.8 501.1 707.6 492.7 713.9 502.3 723.0 493.9 728.6 498.5 734.2 493.0 741.1 496.1 750.9 500.2 753.7 494.8" fill="none" stroke="#000000" stroke-width="4.2" stroke-linejoin="round" stroke-linecap="round"/>
</g><g clip-path="url(#cb)">
<path d="M893.0 232.8L893.5 232.1 893.9 233.3 894.4 234.0 894.8 235.3 895.3 230.5 895.7 235.9 896.2 230.6 896.6 233.2 897.1 235.0 897.5 234.1 898.0 230.6 898.4 231.1 898.9 231.6 899.3 232.5 899.8 235.0 900.2 229.9 900.7 233.6 901.1 233.9 901.6 233.8 902.0 233.6 902.5 235.8 902.9 233.6 903.4 234.4 903.8 233.8 904.3 236.4 904.7 228.8 905.2 235.3 905.6 232.0 906.1 231.9 906.5 230.4 907.0 228.6 907.4 231.6 907.9 230.9 908.3 233.3 908.8 229.1 909.2 235.2 909.7 232.7 910.1 231.6 910.6 230.5 911.0 230.3 911.5 229.6 911.9 230.7 912.4 231.9 912.8 231.4 913.3 228.8 913.7 231.1 914.2 229.8 914.6 232.0 915.1 235.4 915.5 232.8 916.0 230.8 916.4 228.0 916.9 228.4 917.3 227.8 917.8 232.8 918.2 229.6 918.7 231.3 919.1 229.8 919.6 231.3 920.0 234.0 920.5 229.5 920.9 230.1 921.4 228.9 921.8 232.3 922.3 228.1 922.7 227.7 923.2 226.9 923.6 226.7 924.1 230.5 924.5 233.2 925.0 227.0 925.4 231.0 925.9 229.3 926.3 226.2 926.8 227.8 927.2 227.7 927.7 226.5 928.1 231.7 928.6 223.8 929.0 228.3 929.5 228.0 929.9 225.8 930.4 227.2 930.8 228.5 931.3 226.7 931.7 227.1 932.2 227.4 932.6 221.9 933.1 228.7 933.5 229.1 934.0 227.2 934.4 227.0 934.9 221.6 935.3 224.1 935.8 222.4 936.2 222.6 936.7 225.5 937.1 221.4 937.6 222.5 938.0 218.6 938.5 221.7 938.9 221.9 939.4 219.9 939.8 219.5 940.3 224.6 940.7 217.8 941.2 217.8 941.6 217.9 942.1 221.9 942.5 222.8 943.0 220.0 943.4 218.2 943.9 219.2 944.3 222.9 944.8 219.1 945.2 224.6 945.7 225.0 946.1 222.6 946.6 224.2 947.0 224.9 947.5 227.1 947.9 221.9 948.4 226.9 948.8 223.7 949.3 223.1 949.7 225.1 950.2 224.6 950.6 223.1 951.1 222.0 951.5 223.6 952.0 228.9 952.4 229.9 952.9 227.6 953.3 228.9 953.8 225.4 954.2 226.5 954.7 227.5 955.1 224.7 955.6 225.1 956.0 227.4 956.5 226.4 956.9 224.8 957.4 227.9 957.8 226.5 958.3 229.2 958.7 227.0 959.2 226.3 959.6 227.2 960.1 226.5 960.5 225.4 961.0 226.0 961.4 228.4 961.9 228.2 962.3 229.5 962.8 223.1 963.2 225.8 963.7 225.8 964.1 227.0 964.6 225.6 965.0 225.5 965.5 228.2 965.9 226.9 966.4 223.9 966.8 229.3 967.3 228.5 967.7 225.0 968.2 228.0 968.6 224.6 969.1 228.5 969.5 225.6 970.0 224.2 970.4 225.1 970.9 224.2 971.3 226.2 971.8 226.1 972.2 225.7 972.7 224.4 973.1 221.6 973.6 225.7 974.0 221.5 974.5 225.9 974.9 227.7 975.4 225.8 975.8 224.3 976.3 224.7 976.7 224.7 977.2 223.7 977.6 223.4 978.1 222.4 978.5 226.8 979.0 223.9 979.4 225.8 979.9 223.0 980.3 223.4 980.8 222.7 981.2 223.8 981.7 224.4 982.1 222.9 982.6 220.7 983.0 220.2 983.5 225.3 983.9 220.8 984.4 220.6 984.8 224.2 985.3 223.1 985.7 221.7 986.2 219.4 986.6 224.0 987.1 220.7 987.5 220.8 988.0 218.7 988.4 215.4 988.9 215.1 989.3 218.3 989.8 217.8 990.2 215.8 990.7 213.3 991.1 212.1 991.6 214.0 992.0 211.0 992.5 215.6 992.9 215.7 993.4 216.5 993.8 214.0 994.3 210.2 994.7 209.1 995.2 206.5 995.6 208.3 996.1 208.4 996.5 210.2 997.0 208.6 997.4 207.8 997.9 206.1 998.3 206.3 998.8 207.3 999.2 201.0 999.7 201.5 1000.1 198.7 1000.6 204.5 1001.0 203.0 1001.5 201.4 1001.9 197.0 1002.4 199.9 1002.8 198.9 1003.3 199.5 1003.7 198.8 1004.2 200.2 1004.6 198.1 1005.1 200.7 1005.5 199.3 1006.0 198.0 1006.4 198.3 1006.9 197.4 1007.3 200.1 1007.8 198.2 1008.2 199.9 1008.7 198.8 1009.1 196.8 1009.6 202.6 1010.0 198.7 1010.5 203.0 1010.9 202.8 1011.4 198.7 1011.8 200.7 1012.3 202.3 1012.7 202.3 1013.2 202.1 1013.6 207.0 1014.1 205.5 1014.5 207.6 1015.0 206.5 1015.4 208.7 1015.9 207.1 1016.3 209.3 1016.8 211.3 1017.2 210.8 1017.7 210.3 1018.1 209.5 1018.6 212.9 1019.0 213.9 1019.5 213.2 1019.9 212.7 1020.4 216.2 1020.8 219.6 1021.3 215.6 1021.7 217.6 1022.2 218.3 1022.6 214.1 1023.1 218.5 1023.5 216.7 1024.0 221.4 1024.4 217.9 1024.9 216.8 1025.3 218.1 1025.8 219.1 1026.2 217.5 1026.7 218.7 1027.1 215.9 1027.6 218.5 1028.0 220.8 1028.5 223.2 1028.9 220.9 1029.4 220.0 1029.8 222.1 1030.3 221.8 1030.7 223.3 1031.2 222.1 1031.6 219.5 1032.1 220.5 1032.5 220.4 1033.0 220.7 1033.4 220.6 1033.9 218.5 1034.3 216.3 1034.8 218.9 1035.2 216.4 1035.7 220.6 1036.1 220.5 1036.6 216.8 1037.0 222.2 1037.5 222.6 1037.9 220.9 1038.4 224.5 1038.8 224.8 1039.3 218.1 1039.7 223.2 1040.2 221.9 1040.6 221.9 1041.1 223.1 1041.5 219.5 1042.0 219.8 1042.4 219.3 1042.9 219.5 1043.3 221.0 1043.8 218.0 1044.2 219.0 1044.7 222.7 1045.1 221.3 1045.6 222.3 1046.0 217.5 1046.5 219.8 1046.9 220.4 1047.4 221.7 1047.8 220.4 1048.3 223.8 1048.7 221.6 1049.2 221.9 1049.6 221.9 1050.1 223.5 1050.5 220.8 1051.0 224.4 1051.4 222.9 1051.9 222.1 1052.3 221.9 1052.8 222.9 1053.2 224.0 1053.7 223.8 1054.1 222.5 1054.6 223.6 1055.0 221.9 1055.5 224.4 1055.9 221.5 1056.4 217.5 1056.8 224.5 1057.3 221.8 1057.7 218.9 1058.2 221.0 1058.6 219.5 1059.1 225.5 1059.5 222.5 1060.0 217.8 1060.4 222.6 1060.9 220.4 1061.3 225.4 1061.8 218.9 1062.2 217.2 1062.7 221.4 1063.1 220.4 1063.6 220.2 1064.0 217.1 1064.5 222.1 1064.9 224.9 1065.4 217.0 1065.8 223.7 1066.3 219.8 1066.7 225.1 1067.2 222.0 1067.6 220.6 1068.1 223.5 1068.5 222.1 1069.0 219.6 1069.4 222.5 1069.9 219.7 1070.3 216.8 1070.8 224.9 1071.2 220.0 1071.7 219.4 1072.1 221.5 1072.6 217.2 1073.0 217.7 1073.5 219.6 1073.9 219.5 1074.4 220.8 1074.8 223.2 1075.3 219.6 1075.7 221.7 1076.2 222.0 1076.6 218.1 1077.1 221.1 1077.5 218.4 1078.0 222.9 1078.4 221.5 1078.9 220.5 1079.3 217.4 1079.8 220.7 1080.2 218.7 1080.7 222.0 1081.1 220.0 1081.6 218.4 1082.0 222.3 1082.5 221.7 1082.9 218.7 1083.4 222.6 1083.8 219.2 1084.3 219.1 1084.7 220.0 1085.2 218.0 1085.6 218.6 1086.1 219.2 1086.5 223.0 1087.0 222.8 1087.4 218.8 1087.9 222.9 1088.3 219.1 1088.8 220.0 1089.2 221.1 1089.7 219.7 1090.1 223.0 1090.6 219.4 1091.0 216.1 1091.5 221.7 1091.9 217.7 1092.4 217.9 1092.8 214.4 1093.3 220.8 1093.7 220.3 1094.2 220.2 1094.6 220.5 1095.1 222.1 1095.5 218.0 1096.0 220.2 1096.4 216.3 1096.9 217.2 1097.3 220.4 1097.8 218.8 1098.2 214.8 1098.7 218.6 1099.1 217.3 1099.6 215.9 1100.0 218.7 1100.5 216.7 1100.9 214.0 1101.4 215.0 1101.8 221.5 1102.3 214.0 1102.7 217.9 1103.2 218.8 1103.6 218.8 1104.1 214.5 1104.5 216.5 1105.0 217.5 1105.4 219.0 1105.9 215.6 1106.3 214.4 1106.8 219.3 1107.2 219.5 1107.7 217.8 1108.1 215.5 1108.6 217.8 1109.0 217.0 1109.5 218.7 1109.9 213.8 1110.4 216.9 1110.8 216.3 1111.3 214.0 1111.7 217.1 1112.2 216.6 1112.6 215.6 1113.1 217.4 1113.5 213.2 1114.0 216.3 1114.4 217.4 1114.9 217.1 1115.3 218.9 1115.8 213.6 1116.2 212.9 1116.7 216.9 1117.1 217.4 1117.6 220.4 1118.0 217.7 1118.5 214.3 1118.9 218.1 1119.4 214.3 1119.8 212.8 1120.3 220.2 1120.7 216.7 1121.2 217.4 1121.6 216.9 1122.1 219.5 1122.5 215.9 1123.0 217.8 1123.4 212.5 1123.9 211.5 1124.3 217.8 1124.8 217.7 1125.2 215.3 1125.7 214.5 1126.1 214.1 1126.6 212.0 1127.0 216.9 1127.5 214.7 1127.9 214.2 1128.4 213.7 1128.8 215.1 1129.3 213.7 1129.7 214.0 1130.2 209.5 1130.6 213.1 1131.1 215.9 1131.5 210.4 1132.0 211.1 1132.4 213.2 1132.9 213.1 1133.3 212.1 1133.8 206.8 1134.2 211.4 1134.7 207.3 1135.1 207.9 1135.6 210.8 1136.0 208.7 1136.5 211.0 1136.9 213.0 1137.4 210.5 1137.8 210.1 1138.3 206.2 1138.7 206.5 1139.2 205.3 1139.6 206.3 1140.1 204.8 1140.5 205.6 1141.0 206.4 1141.4 204.4 1141.9 203.2 1142.3 203.1 1142.8 207.0 1143.2 205.7 1143.7 207.4 1144.1 206.9 1144.6 203.3 1145.0 205.1 1145.5 199.7 1145.9 206.6 1146.4 204.7 1146.8 201.0 1147.3 198.3 1147.7 201.3 1148.2 195.9 1148.6 197.7 1149.1 200.7 1149.5 198.6 1150.0 196.8 1150.4 199.6 1150.9 194.5 1151.3 197.1 1151.8 194.8 1152.2 193.4 1152.7 195.6 1153.1 191.5 1153.6 197.1 1154.0 190.9 1154.5 195.5 1154.9 188.1 1155.4 191.2 1155.8 186.3 1156.3 185.2 1156.7 187.9 1157.2 188.3 1157.6 183.0 1158.1 187.8 1158.5 182.6 1159.0 183.9 1159.4 183.7 1159.9 183.4 1160.3 177.2 1160.8 184.1 1161.2 180.9 1161.7 177.8 1162.1 175.6 1162.6 173.2 1163.0 173.0 1163.5 176.4 1163.9 173.5 1164.4 170.8 1164.8 171.3 1165.3 175.1 1165.7 170.0 1166.2 168.5 1166.6 172.0 1167.1 169.0 1167.5 167.2 1168.0 164.8 1168.4 161.6 1168.9 161.2 1169.3 161.5 1169.8 160.8 1170.2 160.9 1170.7 160.0 1171.1 158.0 1171.6 156.7 1172.0 152.7 1172.5 149.6 1172.9 151.2 1173.4 149.0 1173.8 148.4 1174.3 148.1 1174.7 144.9 1175.2 144.1 1175.6 145.3 1176.1 144.7 1176.5 141.9 1177.0 143.4 1177.4 140.7 1177.9 137.8 1178.3 139.1 1178.8 142.0 1179.2 135.3 1179.7 138.4 1180.1 137.6 1180.6 136.6 1181.0 130.2 1181.5 134.8 1181.9 129.8 1182.4 127.7 1182.8 126.5 1183.3 127.1 1183.7 124.6 1184.2 122.9 1184.6 124.9 1185.1 119.1 1185.5 117.3 1186.0 120.8 1186.4 120.0 1186.9 120.2 1187.3 114.7 1187.8 118.9 1188.2 117.0 1188.7 119.2 1189.1 111.8 1189.6 114.5 1190.0 112.7 1190.5 109.1 1190.9 110.5 1191.4 114.1 1191.8 110.2 1192.3 109.2 1192.7 112.4 1193.2 112.3 1193.6 111.9 1194.1 107.6 1194.5 108.9 1195.0 110.9 1195.4 106.8 1195.9 106.2 1196.3 109.4 1196.8 110.6 1197.2 104.2 1197.7 102.4 1198.1 102.9 1198.6 104.0 1199.0 106.1 1199.5 108.0 1199.9 106.4 1200.4 105.3 1200.8 107.4 1201.3 105.0 1201.7 107.2 1202.2 106.0 1202.6 111.7 1203.1 109.6 1203.5 106.1 1204.0 105.9 1204.4 107.3 1204.9 104.7 1205.3 107.2 1205.8 107.8 1206.2 111.9 1206.7 109.5 1207.1 109.3 1207.6 108.6 1208.0 109.5 1208.5 112.5 1208.9 112.7 1209.4 116.3 1209.8 112.9 1210.3 117.2 1210.7 116.0 1211.2 116.4 1211.7 113.3 1212.1 115.3 1212.6 120.8 1213.0 123.2 1213.5 121.4 1214.0 123.6 1214.4 121.9 1214.9 122.9 1215.4 123.2 1215.8 127.8 1216.3 127.3 1216.8 126.4 1217.3 126.6 1217.7 128.8 1218.2 128.6 1218.7 126.4 1219.2 132.4 1219.7 129.5 1220.1 129.2 1220.6 132.8 1221.1 132.2 1221.6 130.0 1222.1 131.7 1222.6 128.5 1223.0 129.8 1223.5 127.9 1224.0 135.4 1224.5 129.5 1225.0 135.8 1225.5 133.3 1226.0 133.8 1226.5 136.3 1227.0 138.2 1227.5 139.8 1228.0 143.2 1228.5 140.9 1229.0 142.9 1229.5 140.5 1230.0 144.2 1230.5 143.9 1231.0 143.6 1231.5 145.4 1232.0 146.5 1232.5 148.1 1233.0 149.5 1233.6 148.5 1234.1 149.0 1234.6 153.4 1235.1 149.0 1235.6 152.4 1236.1 158.2 1236.7 151.9 1237.2 155.1 1237.7 158.6 1238.2 153.8 1238.8 161.8 1239.3 154.2 1239.8 161.8 1240.3 162.4 1240.9 161.4 1241.4 159.3 1241.9 161.0 1242.5 158.6 1243.0 162.8 1243.6 158.9 1244.1 161.2 1244.6 164.4 1245.2 160.2 1245.7 162.2 1246.3 163.8 1246.8 160.9 1247.4 166.8 1247.9 165.4 1248.5 161.8 1249.0 165.4 1249.6 164.2 1250.1 164.9 1250.7 166.9 1251.2 165.6 1251.8 169.7 1252.4 166.5 1252.9 170.6 1253.5 168.8 1254.0 171.1 1254.6 168.5 1255.2 169.0 1255.7 168.1 1256.3 172.2 1256.9 173.4 1257.5 175.6 1258.0 174.9 1258.6 173.1 1259.2 172.5 1259.8 174.2 1260.4 173.7 1260.9 177.3 1261.5 176.6 1262.1 173.2 1262.7 174.0 1263.3 178.7 1263.9 176.9 1264.5 176.2 1265.1 179.6 1265.7 176.7 1266.3 177.3 1266.9 177.4 1267.5 174.8 1268.1 180.6 1268.7 176.6 1269.3 178.2 1269.9 178.0 1270.5 181.4 1271.1 180.0 1271.7 180.4 1272.3 177.2 1272.9 180.7 1273.6 178.1 1274.2 182.0 1274.8 182.4 1275.4 181.9 1276.0 185.8 1276.7 183.5 1277.3 183.9 1277.9 183.3 1278.5 182.8 1279.2 185.5 1279.8 186.0 1280.4 181.4 1281.1 186.3 1281.7 185.4 1282.4 186.5 1283.0 185.6 1283.7 182.4 1284.3 182.7 1284.9 188.8 1285.6 185.8 1286.2 182.7 1286.9 186.4 1287.6 185.1 1288.2 182.5 1288.9 182.6 1289.5 183.2 1290.2 186.8" fill="none" stroke="#0000ff" stroke-width="5.2" stroke-linejoin="round" stroke-linecap="round"/>
<path d="M1290.2 186.8L1290.9 185.9 1291.5 185.3 1292.2 186.0 1292.9 186.4 1293.5 181.5 1294.2 184.1 1294.9 182.9 1295.6 181.8 1296.2 182.9 1296.9 183.4 1297.6 182.9 1298.3 180.4 1299.0 182.0 1299.7 186.6 1300.4 181.5 1301.1 180.7 1301.8 184.6 1302.4 185.5 1303.1 185.6 1303.8 182.9 1304.6 187.2 1305.3 184.2 1306.0 183.8 1306.7 185.1 1307.4 186.3 1308.1 188.2 1308.8 188.3 1309.5 187.4 1310.3 189.5 1311.0 188.2 1311.7 190.0 1312.4 186.2 1313.2 186.2 1313.9 190.7 1314.6 187.1 1315.4 189.1 1316.1 189.2 1316.8 188.2 1317.6 188.0 1318.3 190.9 1319.1 185.0 1319.8 189.4 1320.6 190.7 1321.3 187.3 1322.1 186.9 1322.8 187.9 1323.6 189.5 1324.4 184.0 1325.1 185.9 1325.9 185.1 1326.6 186.2 1327.4 185.6 1328.2 186.6 1329.0 184.9 1329.7 185.8 1330.0 185.5 1331.4 185.4 1332.8 187.2 1334.2 188.0 1335.6 186.9 1337.0 193.0 1338.4 190.8 1339.8 186.5 1341.2 189.6 1342.6 184.5 1344.0 185.2 1345.4 182.6 1346.8 181.1 1347.9 184.0 1349.1 185.3 1350.2 189.2 1351.5 192.0 1352.9 182.9 1354.2 186.2 1355.6 185.9 1356.9 183.6 1358.3 182.4 1359.7 190.2 1361.1 186.4 1362.5 192.0 1363.9 190.1 1365.3 190.2 1366.4 188.9 1367.6 187.1 1368.7 184.2 1370.2 184.7 1371.7 184.3 1373.1 184.5 1374.6 186.9 1376.1 186.0 1377.5 182.7 1379.0 183.5 1380.5 185.0 1381.9 183.5 1383.4 183.8 1384.8 182.5 1386.3 183.6 1387.7 184.8 1389.2 185.7 1390.6 183.6 1392.1 188.4 1393.5 185.1 1395.0 192.1 1396.5 187.3 1397.8 184.2 1399.0 179.5 1400.3 174.8 1401.7 180.3 1403.0 181.4 1404.4 185.1 1405.7 181.4 1407.2 184.9 1408.7 180.2 1410.1 181.4 1411.6 174.6 1413.1 179.0 1414.5 177.5 1416.0 178.8 1417.5 176.9 1418.8 174.6 1420.2 178.4 1421.5 177.8 1422.9 177.5 1424.2 178.1 1425.6 178.2 1427.0 175.9 1428.3 173.3 1429.7 173.1 1431.0 176.2 1432.4 176.6 1433.9 175.1 1435.3 173.7 1436.8 174.2 1438.2 173.9 1439.7 172.8 1441.1 172.8 1442.4 176.5 1443.8 172.0 1445.1 169.7 1446.5 167.6 1447.8 169.0 1449.1 171.0 1450.5 171.5 1451.8 169.9 1453.2 170.8 1454.5 170.9 1455.8 167.5 1457.0 170.6 1458.3 167.4 1459.6 166.3 1460.8 164.4 1462.1 166.1 1463.3 168.6 1464.6 167.4 1465.9 163.7 1467.1 163.4 1468.4 164.2 1469.7 163.5 1470.9 161.5 1472.2 160.9 1473.7 163.9 1475.2 164.1 1476.6 165.0 1478.1 166.3 1479.3 165.1 1480.6 163.4 1481.8 159.4 1483.1 157.2 1484.5 156.3 1486.0 154.3 1487.4 155.0 1488.9 158.3 1490.3 157.7 1491.8 159.9 1493.2 156.8 1494.5 156.9 1495.8 156.1 1497.0 153.9 1498.3 150.2 1499.5 148.2 1500.8 146.9 1502.0 142.8 1503.3 143.0 1504.6 145.7 1506.0 143.8 1507.3 149.3 1508.7 146.0 1510.0 147.4 1511.4 146.0 1512.7 144.2 1514.1 145.3 1515.4 143.6 1516.8 143.3 1517.9 140.5 1519.0 137.1 1520.1 132.7 1521.5 130.6 1522.8 133.7 1524.2 132.8 1525.5 136.7 1526.9 135.4 1528.2 136.0 1529.4 131.7 1530.7 129.3 1531.9 125.2 1533.3 123.4 1534.7 122.2 1536.1 120.6 1537.5 115.4 1538.9 115.6 1540.3 113.6" fill="none" stroke="#0000ff" stroke-width="5.0" stroke-linejoin="round" stroke-linecap="round"/>
<path d="M893.0 382.4L893.5 382.1 893.9 381.1 894.4 379.5 894.8 385.2 895.3 382.7 895.7 383.2 896.2 386.5 896.6 386.5 897.1 380.7 897.5 384.9 898.0 383.9 898.4 383.5 898.9 383.6 899.3 382.6 899.8 386.0 900.2 383.9 900.7 383.3 901.1 385.3 901.6 384.5 902.0 383.6 902.5 383.3 902.9 386.4 903.4 383.7 903.8 382.4 904.3 380.8 904.7 381.9 905.2 380.3 905.6 382.8 906.1 383.0 906.5 378.5 907.0 382.4 907.4 383.7 907.9 382.6 908.3 380.1 908.8 384.8 909.2 380.5 909.7 379.3 910.1 379.5 910.6 381.8 911.0 383.9 911.5 384.2 911.9 382.1 912.4 379.0 912.8 380.0 913.3 379.5 913.7 380.9 914.2 377.4 914.6 381.4 915.1 382.5 915.5 380.7 916.0 382.0 916.4 378.9 916.9 377.7 917.3 379.4 917.8 383.2 918.2 382.9 918.7 379.6 919.1 383.1 919.6 379.7 920.0 383.6 920.5 381.4 920.9 379.2 921.4 381.8 921.8 378.4 922.3 377.9 922.7 376.7 923.2 380.3 923.6 379.6 924.1 379.4 924.5 378.6 925.0 382.5 925.4 378.4 925.9 377.6 926.3 381.8 926.8 382.1 927.2 379.7 927.7 375.1 928.1 377.5 928.6 380.0 929.0 378.6 929.5 381.8 929.9 375.4 930.4 379.8 930.8 376.8 931.3 381.0 931.7 377.9 932.2 380.2 932.6 376.4 933.1 374.7 933.5 375.2 934.0 376.2 934.4 375.2 934.9 380.0 935.3 380.2 935.8 377.8 936.2 374.7 936.7 376.4 937.1 374.9 937.6 379.3 938.0 376.6 938.5 376.7 938.9 374.5 939.4 371.2 939.8 373.2 940.3 372.2 940.7 375.2 941.2 374.3 941.6 372.1 942.1 372.7 942.5 376.7 943.0 371.0 943.4 370.8 943.9 372.1 944.3 370.8 944.8 371.1 945.2 372.9 945.7 375.3 946.1 367.4 946.6 371.1 947.0 371.3 947.5 371.1 947.9 371.0 948.4 370.7 948.8 373.7 949.3 370.6 949.7 371.4 950.2 371.8 950.6 372.1 951.1 371.6 951.5 374.2 952.0 372.1 952.4 372.6 952.9 372.2 953.3 370.2 953.8 370.7 954.2 370.3 954.7 373.1 955.1 371.2 955.6 370.5 956.0 373.4 956.5 374.1 956.9 369.2 957.4 376.8 957.8 373.3 958.3 373.1 958.7 375.7 959.2 373.5 959.6 372.0 960.1 377.3 960.5 371.0 961.0 373.1 961.4 375.1 961.9 370.9 962.3 373.0 962.8 374.1 963.2 377.1 963.7 371.2 964.1 373.0 964.6 374.6 965.0 373.3 965.5 370.5 965.9 374.0 966.4 373.3 966.8 374.0 967.3 375.5 967.7 375.2 968.2 373.9 968.6 373.6 969.1 370.5 969.5 372.6 970.0 373.4 970.4 372.0 970.9 373.0 971.3 371.0 971.8 376.1 972.2 376.7 972.7 371.9 973.1 373.6 973.6 372.2 974.0 375.4 974.5 373.5 974.9 372.5 975.4 371.7 975.8 372.4 976.3 369.8 976.7 373.3 977.2 370.1 977.6 372.7 978.1 371.7 978.5 373.7 979.0 371.1 979.4 373.2 979.9 368.8 980.3 372.1 980.8 370.1 981.2 370.9 981.7 370.5 982.1 372.2 982.6 366.1 983.0 370.6 983.5 366.5 983.9 372.3 984.4 365.6 984.8 367.2 985.3 365.6 985.7 372.7 986.2 366.1 986.6 369.1 987.1 367.5 987.5 364.6 988.0 367.7 988.4 369.7 988.9 367.7 989.3 369.9 989.8 366.7 990.2 367.2 990.7 365.9 991.1 367.2 991.6 370.0 992.0 366.5 992.5 365.8 992.9 363.7 993.4 363.0 993.8 367.5 994.3 361.5 994.7 361.6 995.2 363.0 995.6 361.9 996.1 366.5 996.5 358.2 997.0 362.6 997.4 363.1 997.9 358.8 998.3 359.5 998.8 361.6 999.2 363.9 999.7 358.0 1000.1 356.2 1000.6 361.6 1001.0 362.5 1001.5 358.1 1001.9 354.5 1002.4 361.4 1002.8 357.5 1003.3 360.1 1003.7 357.2 1004.2 356.2 1004.6 355.7 1005.1 359.7 1005.5 359.3 1006.0 351.9 1006.4 353.9 1006.9 360.0 1007.3 355.3 1007.8 353.1 1008.2 356.2 1008.7 356.0 1009.1 356.1 1009.6 355.3 1010.0 355.8 1010.5 355.5 1010.9 357.3 1011.4 354.8 1011.8 356.0 1012.3 356.7 1012.7 360.2 1013.2 358.5 1013.6 357.8 1014.1 359.6 1014.5 359.7 1015.0 361.6 1015.4 360.6 1015.9 363.9 1016.3 363.2 1016.8 360.5 1017.2 360.0 1017.7 363.3 1018.1 362.8 1018.6 361.8 1019.0 359.1 1019.5 358.7 1019.9 363.7 1020.4 364.7 1020.8 364.9 1021.3 360.3 1021.7 365.6 1022.2 362.1 1022.6 364.3 1023.1 364.4 1023.5 361.8 1024.0 362.3 1024.4 359.7 1024.9 361.8 1025.3 359.9 1025.8 365.0 1026.2 364.3 1026.7 366.3 1027.1 365.1 1027.6 363.0 1028.0 365.2 1028.5 363.7 1028.9 366.0 1029.4 365.4 1029.8 362.6 1030.3 364.9 1030.7 365.1 1031.2 364.4 1031.6 367.2 1032.1 369.1 1032.5 364.5 1033.0 364.6 1033.4 361.5 1033.9 365.3 1034.3 364.7 1034.8 361.7 1035.2 366.5 1035.7 367.2 1036.1 364.2 1036.6 365.0 1037.0 363.7 1037.5 367.7 1037.9 362.5 1038.4 365.3 1038.8 370.1 1039.3 366.2 1039.7 367.1 1040.2 365.7 1040.6 363.4 1041.1 366.1 1041.5 367.1 1042.0 363.9 1042.4 367.0 1042.9 369.1 1043.3 368.7 1043.8 362.7 1044.2 364.1 1044.7 362.6 1045.1 368.8 1045.6 367.8 1046.0 368.0 1046.5 364.4 1046.9 363.8 1047.4 366.6 1047.8 366.7 1048.3 364.6 1048.7 366.9 1049.2 368.0 1049.6 367.1 1050.1 364.2 1050.5 362.4 1051.0 365.9 1051.4 366.8 1051.9 365.7 1052.3 365.3 1052.8 364.6 1053.2 367.8 1053.7 365.9 1054.1 366.3 1054.6 363.7 1055.0 364.4 1055.5 366.2 1055.9 363.4 1056.4 362.8 1056.8 364.8 1057.3 368.3 1057.7 365.9 1058.2 368.7 1058.6 365.0 1059.1 364.5 1059.5 362.0 1060.0 363.8 1060.4 368.3 1060.9 365.7 1061.3 366.6 1061.8 366.4 1062.2 364.7 1062.7 364.2 1063.1 364.9 1063.6 366.1 1064.0 365.5 1064.5 365.5 1064.9 364.7 1065.4 362.5 1065.8 363.7 1066.3 362.1 1066.7 366.6 1067.2 360.1 1067.6 363.8 1068.1 368.5 1068.5 363.5 1069.0 361.7 1069.4 364.3 1069.9 367.3 1070.3 363.9 1070.8 365.7 1071.2 364.5 1071.7 363.4 1072.1 368.5 1072.6 364.5 1073.0 363.1 1073.5 363.2 1073.9 365.2 1074.4 365.3 1074.8 366.1 1075.3 364.6 1075.7 361.0 1076.2 365.5 1076.6 363.6 1077.1 363.6 1077.5 360.8 1078.0 363.0 1078.4 362.6 1078.9 364.2 1079.3 360.9 1079.8 364.4 1080.2 364.6 1080.7 361.7 1081.1 362.8 1081.6 362.2 1082.0 366.3 1082.5 360.0 1082.9 363.4 1083.4 360.3 1083.8 363.1 1084.3 366.1 1084.7 362.6 1085.2 364.4 1085.6 362.1 1086.1 368.2 1086.5 366.1 1087.0 366.6 1087.4 360.8 1087.9 361.3 1088.3 366.4 1088.8 363.4 1089.2 363.2 1089.7 364.6 1090.1 360.8 1090.6 365.6 1091.0 363.8 1091.5 364.9 1091.9 362.1 1092.4 364.9 1092.8 362.0 1093.3 365.9 1093.7 366.3 1094.2 365.7 1094.6 364.8 1095.1 365.0 1095.5 359.3 1096.0 365.4 1096.4 362.7 1096.9 363.6 1097.3 362.6 1097.8 359.9 1098.2 361.9 1098.7 364.6 1099.1 366.3 1099.6 361.4 1100.0 360.7 1100.5 366.2 1100.9 360.6 1101.4 366.9 1101.8 362.7 1102.3 360.4 1102.7 364.8 1103.2 366.4 1103.6 358.9 1104.1 365.9 1104.5 361.5 1105.0 365.6 1105.4 361.1 1105.9 358.2 1106.3 363.1 1106.8 364.0 1107.2 366.1 1107.7 365.8 1108.1 363.3 1108.6 361.0 1109.0 360.3 1109.5 360.7 1109.9 359.4 1110.4 360.6 1110.8 356.9 1111.3 361.6 1111.7 361.0 1112.2 365.3 1112.6 362.7 1113.1 359.6 1113.5 362.1 1114.0 357.7 1114.4 359.1 1114.9 356.1 1115.3 363.8 1115.8 361.7 1116.2 357.4 1116.7 359.9 1117.1 362.3 1117.6 361.1 1118.0 360.7 1118.5 357.7 1118.9 358.1 1119.4 359.7 1119.8 361.6 1120.3 357.3 1120.7 356.4 1121.2 361.8 1121.6 356.7 1122.1 361.4 1122.5 359.2 1123.0 360.7 1123.4 362.6 1123.9 360.0 1124.3 360.0 1124.8 355.9 1125.2 356.3 1125.7 359.4 1126.1 361.4 1126.6 360.9 1127.0 361.8 1127.5 358.1 1127.9 357.7 1128.4 359.5 1128.8 357.0 1129.3 356.7 1129.7 354.2 1130.2 359.0 1130.6 353.9 1131.1 357.6 1131.5 352.9 1132.0 359.0 1132.4 353.8 1132.9 358.3 1133.3 352.4 1133.8 355.1 1134.2 359.0 1134.7 354.2 1135.1 356.2 1135.6 354.9 1136.0 351.6 1136.5 356.7 1136.9 357.0 1137.4 353.2 1137.8 357.2 1138.3 353.9 1138.7 353.3 1139.2 355.7 1139.6 354.1 1140.1 360.0 1140.5 351.9 1141.0 357.4 1141.4 357.9 1141.9 351.2 1142.3 350.9 1142.8 355.9 1143.2 352.8 1143.7 354.4 1144.1 355.6 1144.6 351.4 1145.0 349.2 1145.5 346.8 1145.9 351.1 1146.4 347.8 1146.8 350.2 1147.3 349.5 1147.7 345.0 1148.2 352.0 1148.6 349.8 1149.1 348.7 1149.5 343.2 1150.0 344.5 1150.4 343.6 1150.9 343.4 1151.3 341.1 1151.8 344.3 1152.2 343.3 1152.7 343.0 1153.1 340.4 1153.6 344.4 1154.0 341.4 1154.5 336.2 1154.9 338.6 1155.4 339.7 1155.8 341.8 1156.3 338.4 1156.7 338.2 1157.2 336.8 1157.6 339.7 1158.1 336.6 1158.5 335.9 1159.0 335.2 1159.4 338.0 1159.9 335.0 1160.3 331.8 1160.8 337.1 1161.2 333.5 1161.7 335.7 1162.1 335.4 1162.6 336.9 1163.0 336.0 1163.5 331.5 1163.9 332.0 1164.4 328.7 1164.8 335.4 1165.3 331.8 1165.7 333.6 1166.2 328.9 1166.6 324.8 1167.1 332.3 1167.5 328.3 1168.0 327.8 1168.4 327.1 1168.9 328.0 1169.3 327.2 1169.8 321.5 1170.2 327.5 1170.7 323.0 1171.1 322.6 1171.6 327.3 1172.0 324.2 1172.5 320.1 1172.9 315.5 1173.4 319.3 1173.8 319.1 1174.3 316.6 1174.7 312.7 1175.2 312.7 1175.6 310.6 1176.1 313.1 1176.5 313.5 1177.0 313.1 1177.4 308.3 1177.9 310.2 1178.3 310.5 1178.8 307.5 1179.2 307.9 1179.7 312.2 1180.1 307.9 1180.6 309.1 1181.0 305.4 1181.5 306.1 1181.9 301.3 1182.4 305.0 1182.8 307.5 1183.3 308.6 1183.7 306.6 1184.2 304.9 1184.6 302.9 1185.1 300.9 1185.5 301.5 1186.0 303.0 1186.4 299.1 1186.9 302.8 1187.3 297.7 1187.8 295.3 1188.2 296.7 1188.7 294.7 1189.1 294.9 1189.6 300.6 1190.0 296.9 1190.5 297.5 1190.9 299.3 1191.4 299.1 1191.8 294.4 1192.3 298.4 1192.7 295.6 1193.2 294.3 1193.6 294.8 1194.1 289.4 1194.5 290.2 1195.0 291.2 1195.4 292.2 1195.9 289.0 1196.3 288.9 1196.8 290.8 1197.2 291.2 1197.7 288.9 1198.1 289.3 1198.6 284.5 1199.0 284.1 1199.5 285.3 1199.9 283.5 1200.4 282.7 1200.8 287.8 1201.3 282.9 1201.7 280.8 1202.2 284.1 1202.6 287.0 1203.1 282.5 1203.5 285.0 1204.0 280.6 1204.4 280.2 1204.9 279.5 1205.3 280.5 1205.8 285.0 1206.2 277.5 1206.7 284.5 1207.1 278.1 1207.6 280.1 1208.0 282.9 1208.5 282.5 1208.9 281.8 1209.4 277.2 1209.8 282.3 1210.3 279.0 1210.7 286.1 1211.2 281.2 1211.7 282.4 1212.1 279.2 1212.6 281.0 1213.0 279.1 1213.5 284.9 1214.0 281.9 1214.4 284.1 1214.9 281.2 1215.4 281.8 1215.8 286.1 1216.3 280.4 1216.8 278.3 1217.3 283.7 1217.7 279.8 1218.2 281.5 1218.7 284.7 1219.2 280.4 1219.7 284.5 1220.1 280.5 1220.6 285.8 1221.1 285.4 1221.6 280.8 1222.1 281.4 1222.6 279.8 1223.0 282.2 1223.5 284.5 1224.0 278.0 1224.5 283.8 1225.0 278.1 1225.5 279.2 1226.0 276.8 1226.5 285.7 1227.0 281.6 1227.5 282.3 1228.0 280.3 1228.5 284.9 1229.0 278.0 1229.5 282.8 1230.0 287.5 1230.5 282.3 1231.0 283.5 1231.5 285.4 1232.0 282.0 1232.5 284.3 1233.0 286.9 1233.6 285.3 1234.1 286.0 1234.6 284.4 1235.1 286.3 1235.6 286.0 1236.1 289.7 1236.7 288.1 1237.2 286.0 1237.7 282.3 1238.2 288.6 1238.8 288.8 1239.3 284.7 1239.8 282.6 1240.3 284.3 1240.9 289.6 1241.4 284.7 1241.9 286.3 1242.5 288.1 1243.0 290.7 1243.6 287.7 1244.1 287.5 1244.6 286.5 1245.2 292.0 1245.7 290.7 1246.3 287.9 1246.8 284.8 1247.4 286.4 1247.9 289.9 1248.5 286.7 1249.0 291.2 1249.6 290.3 1250.1 290.5 1250.7 291.8 1251.2 291.8 1251.8 288.9 1252.4 290.6 1252.9 296.3 1253.5 289.3 1254.0 291.5 1254.6 295.7 1255.2 293.1 1255.7 292.0 1256.3 290.2 1256.9 294.2 1257.5 294.8 1258.0 295.2 1258.6 291.3 1259.2 293.1 1259.8 287.5 1260.4 289.8 1260.9 287.2 1261.5 288.7 1262.1 289.5 1262.7 289.7 1263.3 284.5 1263.9 290.4 1264.5 286.8 1265.1 286.0 1265.7 288.6 1266.3 286.1 1266.9 290.1 1267.5 291.3 1268.1 290.7 1268.7 293.0 1269.3 291.5 1269.9 292.8 1270.5 290.0 1271.1 294.0 1271.7 292.5 1272.3 293.9 1272.9 294.1 1273.6 294.1 1274.2 289.1 1274.8 288.6 1275.4 290.9 1276.0 292.0 1276.7 291.0 1277.3 291.6 1277.9 291.8 1278.5 289.3 1279.2 287.4 1279.8 284.4 1280.4 283.9 1281.1 284.3 1281.7 285.5 1282.4 285.2 1283.0 284.6 1283.7 284.1 1284.3 285.7 1284.9 284.6 1285.6 284.7 1286.2 284.6 1286.9 282.6 1287.6 281.3 1288.2 284.6 1288.9 284.3 1289.5 282.7 1290.2 282.2" fill="none" stroke="#ff0000" stroke-width="5.2" stroke-linejoin="round" stroke-linecap="round"/>
<path d="M1290.2 282.2L1290.9 286.7 1291.5 280.4 1292.2 280.9 1292.9 281.3 1293.5 277.6 1294.2 279.7 1294.9 282.7 1295.6 280.1 1296.2 278.8 1296.9 278.0 1297.6 276.3 1298.3 277.4 1299.0 274.4 1299.7 273.1 1300.4 274.4 1301.1 276.4 1301.8 275.5 1302.4 276.6 1303.1 271.7 1303.8 278.4 1304.6 280.0 1305.3 279.3 1306.0 276.2 1306.7 275.5 1307.4 277.8 1308.1 274.3 1308.8 277.0 1309.5 273.5 1310.3 275.6 1311.0 275.5 1311.7 268.2 1312.4 271.5 1313.2 268.6 1313.9 266.2 1314.6 267.0 1315.4 267.6 1316.1 269.9 1316.8 264.5 1317.6 269.4 1318.3 270.6 1319.1 268.0 1319.8 267.6 1320.6 266.3 1321.3 263.8 1322.1 266.9 1322.8 266.3 1323.6 266.8 1324.4 268.6 1325.1 266.2 1325.9 265.9 1326.6 268.9 1327.4 264.0 1328.2 265.2 1329.0 267.5 1329.7 267.7 1330.0 269.5 1331.5 268.7 1332.9 272.7 1334.3 272.4 1335.8 269.9 1337.3 271.4 1338.7 275.7 1340.2 277.3 1341.7 273.0 1343.1 273.8 1344.6 272.6 1346.0 269.8 1347.5 268.1 1349.0 272.9 1350.4 272.2 1351.9 277.0 1353.4 273.6 1354.8 274.6 1356.2 270.0 1357.7 270.3 1359.2 271.7 1360.6 273.8 1362.1 272.7 1363.5 271.3 1365.0 275.8 1366.5 276.6 1368.0 281.4 1369.4 281.4 1370.9 282.7 1372.4 287.8 1373.8 286.8 1375.3 290.6 1376.7 287.0 1378.2 292.0 1379.7 289.3 1381.1 287.6 1382.5 286.1 1384.0 284.3 1385.3 289.9 1386.5 285.8 1387.8 292.0 1389.1 294.2 1390.3 294.3 1391.6 289.0 1392.8 287.7 1394.3 288.0 1395.7 291.2 1397.2 293.0 1398.6 291.6 1400.1 293.5 1401.6 290.4 1403.0 293.3 1404.5 294.0 1405.9 290.9 1407.4 292.0 1408.9 286.3 1410.3 285.3 1411.8 284.8 1413.2 285.9 1414.7 288.5 1416.1 290.8 1417.6 293.4 1419.1 294.2 1420.5 291.4 1422.0 289.3 1423.5 290.6 1425.0 297.0 1426.4 290.3 1427.9 296.3 1429.3 301.3 1430.8 300.5 1432.2 296.2 1433.7 295.2 1435.1 293.0 1436.6 293.4 1438.0 287.8 1439.5 289.3 1441.0 286.4 1442.5 293.5 1443.9 297.1 1445.4 294.3 1446.8 290.6 1448.3 292.6 1449.7 293.6 1451.2 288.9 1452.7 291.5 1454.1 298.2 1455.5 294.1 1457.0 298.9 1458.5 294.9 1459.9 293.5 1461.4 291.1 1462.8 291.2 1464.3 285.4 1465.8 284.0 1467.2 281.2 1468.7 284.4 1470.1 281.8 1471.6 282.0 1473.1 282.8 1474.5 287.2 1476.0 292.8 1477.5 293.8 1479.0 291.7 1480.4 288.2 1481.9 283.2 1483.3 277.6 1484.8 277.7 1486.3 276.9 1487.7 277.7 1489.2 271.3 1490.6 271.2 1492.1 272.8 1493.6 275.0 1495.0 281.7 1496.5 283.0 1498.0 281.0 1499.4 279.6 1500.9 279.1 1502.3 275.4 1503.8 274.5 1505.0 275.6 1506.2 272.1 1507.4 277.1 1508.6 276.6 1509.9 270.1 1511.1 267.7 1512.6 267.2 1514.0 268.1 1515.5 270.2 1517.0 266.5 1518.4 262.3 1519.9 255.7 1521.3 257.8 1522.8 255.3 1524.1 255.0 1525.4 262.3 1526.7 264.4 1528.0 261.8 1529.3 268.1 1530.7 266.6 1532.0 262.3 1533.3 263.2 1534.7 256.7 1536.1 255.5 1537.4 255.2 1538.8 256.2 1540.3 262.5 1541.7 262.9" fill="none" stroke="#ff0000" stroke-width="5.0" stroke-linejoin="round" stroke-linecap="round"/>
<path d="M894.6 519.3L895.1 519.7 895.5 522.1 896.0 521.0 896.4 523.5 896.9 520.1 897.3 518.8 897.8 520.5 898.2 521.6 898.7 519.5 899.1 522.0 899.6 525.3 900.0 520.1 900.5 521.4 900.9 524.2 901.4 519.8 901.8 519.4 902.3 518.8 902.7 522.0 903.2 522.2 903.6 520.7 904.1 521.1 904.5 523.7 905.0 522.8 905.4 517.9 905.9 520.8 906.3 521.0 906.8 522.3 907.2 520.2 907.7 519.3 908.1 519.7 908.6 516.8 909.0 520.5 909.5 519.2 909.9 521.5 910.4 518.2 910.8 519.5 911.3 518.3 911.7 518.0 912.2 521.8 912.6 519.2 913.1 521.2 913.5 517.7 914.0 520.2 914.4 516.3 914.9 518.8 915.3 518.6 915.8 520.9 916.2 519.9 916.7 519.1 917.1 521.2 917.6 519.7 918.0 520.3 918.5 520.7 918.9 518.9 919.4 518.3 919.8 519.5 920.3 517.8 920.7 519.5 921.2 520.9 921.6 520.3 922.1 517.5 922.5 515.5 923.0 518.1 923.4 517.8 923.9 520.4 924.3 517.1 924.8 517.4 925.2 519.3 925.7 516.6 926.1 517.2 926.6 521.2 927.0 520.6 927.5 518.6 927.9 517.8 928.4 515.0 928.8 518.2 929.3 517.0 929.7 517.3 930.2 515.6 930.6 516.6 931.1 516.1 931.5 517.1 932.0 519.4 932.4 517.0 932.9 512.6 933.3 514.0 933.8 512.6 934.2 514.2 934.7 517.0 935.1 516.6 935.6 514.3 936.0 516.1 936.5 513.9 936.9 512.4 937.4 512.4 937.8 513.5 938.3 518.4 938.7 512.4 939.2 517.9 939.6 518.1 940.1 514.8 940.5 515.0 941.0 513.7 941.4 515.0 941.9 516.4 942.3 514.9 942.8 517.0 943.2 517.4 943.7 515.5 944.1 515.5 944.6 514.6 945.0 515.4 945.5 512.2 945.9 515.4 946.4 515.0 946.8 512.6 947.3 518.5 947.7 512.3 948.2 512.5 948.6 514.9 949.1 510.4 949.5 512.5 950.0 510.8 950.4 512.0 950.9 513.8 951.3 514.7 951.8 516.4 952.2 515.7 952.7 516.5 953.1 515.1 953.6 512.8 954.0 516.2 954.5 512.6 954.9 512.3 955.4 516.9 955.8 515.3 956.3 514.0 956.7 515.1 957.2 515.3 957.6 510.4 958.1 513.1 958.5 510.7 959.0 513.5 959.4 511.7 959.9 516.1 960.3 514.2 960.8 511.3 961.2 513.0 961.7 510.3 962.1 513.0 962.6 514.1 963.0 513.4 963.5 509.0 963.9 512.0 964.4 513.8 964.8 513.3 965.3 515.1 965.7 509.8 966.2 513.7 966.6 511.0 967.1 512.8 967.5 513.3 968.0 513.8 968.4 511.0 968.9 512.6 969.3 509.6 969.8 509.1 970.2 513.3 970.7 511.9 971.1 508.5 971.6 510.1 972.0 512.0 972.5 515.3 972.9 514.1 973.4 513.5 973.8 507.9 974.3 511.5 974.7 512.7 975.2 512.5 975.6 512.5 976.1 511.0 976.5 515.3 977.0 514.7 977.4 511.2 977.9 509.2 978.3 515.4 978.8 510.0 979.2 513.8 979.7 515.2 980.1 509.0 980.6 511.7 981.0 510.3 981.5 512.1 981.9 511.6 982.4 515.0 982.8 512.1 983.3 510.8 983.7 513.2 984.2 510.1 984.6 509.9 985.1 514.7 985.5 508.8 986.0 509.5 986.4 510.6 986.9 508.1 987.3 506.6 987.8 512.7 988.2 508.6 988.7 509.1 989.1 509.4 989.6 508.0 990.0 507.8 990.5 510.5 990.9 514.1 991.4 511.6 991.8 511.6 992.3 506.6 992.7 509.8 993.2 507.2 993.6 511.5 994.1 509.3 994.5 509.8 995.0 509.5 995.4 508.3 995.9 506.2 996.3 510.8 996.8 506.5 997.2 506.9 997.7 508.8 998.1 507.8 998.6 509.9 999.0 511.5 999.5 509.8 999.9 509.6 1000.4 509.2 1000.8 511.0 1001.3 505.2 1001.7 509.8 1002.2 506.9 1002.6 506.2 1003.1 508.9 1003.5 508.0 1004.0 510.1 1004.4 511.2 1004.9 504.9 1005.3 508.6 1005.8 512.8 1006.2 510.6 1006.7 511.9 1007.1 508.9 1007.6 505.5 1008.0 506.1 1008.5 510.2 1008.9 510.7 1009.4 507.0 1009.8 508.0 1010.3 509.1 1010.7 504.7 1011.2 507.8 1011.6 512.1 1012.1 512.6 1012.5 508.2 1013.0 512.5 1013.4 507.3 1013.9 506.6 1014.3 504.5 1014.8 510.5 1015.2 507.6 1015.7 512.5 1016.1 509.1 1016.6 508.8 1017.0 504.4 1017.5 511.7 1017.9 507.5 1018.4 507.9 1018.8 504.4 1019.3 510.3 1019.7 510.4 1020.2 506.9 1020.6 508.4 1021.1 509.1 1021.5 510.3 1022.0 508.4 1022.4 512.0 1022.9 507.6 1023.3 506.7 1023.8 507.0 1024.2 504.2 1024.7 506.3 1025.1 510.3 1025.6 508.6 1026.0 506.2 1026.5 508.8 1026.9 504.1 1027.4 507.3 1027.8 509.1 1028.3 509.5 1028.7 506.2 1029.2 510.0 1029.6 512.1 1030.1 506.9 1030.5 509.5 1031.0 504.3 1031.4 503.9 1031.9 509.2 1032.3 507.9 1032.8 508.2 1033.2 506.5 1033.7 507.1 1034.1 509.6 1034.6 511.6 1035.0 507.2 1035.5 504.0 1035.9 510.6 1036.4 509.0 1036.8 509.2 1037.3 508.0 1037.7 511.8 1038.2 507.8 1038.6 508.7 1039.1 503.6 1039.5 506.2 1040.0 506.0 1040.4 507.5 1040.9 508.3 1041.3 505.8 1041.8 511.4 1042.2 505.0 1042.7 506.4 1043.1 508.0 1043.6 504.6 1044.0 508.7 1044.5 508.8 1044.9 506.7 1045.4 511.6 1045.8 507.5 1046.3 508.0 1046.7 505.1 1047.2 503.5 1047.6 505.8 1048.1 506.5 1048.5 506.2 1049.0 509.0 1049.4 503.2 1049.9 504.6 1050.3 503.2 1050.8 510.2 1051.2 505.8 1051.7 505.8 1052.1 504.5 1052.6 509.0 1053.0 505.9 1053.5 507.3 1053.9 502.8 1054.4 509.4 1054.8 507.6 1055.3 507.9 1055.7 509.4 1056.2 506.1 1056.6 506.1 1057.1 508.1 1057.5 507.4 1058.0 505.8 1058.4 506.4 1058.9 505.1 1059.3 507.9 1059.8 508.4 1060.2 506.2 1060.7 510.4 1061.1 502.5 1061.6 505.5 1062.0 509.9 1062.5 505.0 1062.9 502.2 1063.4 509.1 1063.8 507.1 1064.3 503.0 1064.7 507.5 1065.2 503.3 1065.6 502.5 1066.1 505.2 1066.5 504.4 1067.0 502.9 1067.4 504.6 1067.9 503.1 1068.3 505.5 1068.8 505.3 1069.2 507.0 1069.7 504.2 1070.1 502.1 1070.6 502.1 1071.0 504.5 1071.5 508.6 1071.9 507.0 1072.4 503.5 1072.8 507.1 1073.3 502.2 1073.7 507.3 1074.2 504.0 1074.6 506.7 1075.1 506.3 1075.5 504.2 1076.0 505.7 1076.4 502.4 1076.9 504.7 1077.3 507.4 1077.8 509.2 1078.2 506.5 1078.7 505.1 1079.1 502.5 1079.6 507.4 1080.0 501.0 1080.5 503.0 1080.9 505.7 1081.4 502.1 1081.8 508.5 1082.3 507.5 1082.7 503.6 1083.2 503.6 1083.6 501.8 1084.1 501.6 1084.5 505.9 1085.0 506.4 1085.4 505.7 1085.9 505.5 1086.3 503.6 1086.8 505.7 1087.2 501.4 1087.7 504.9 1088.1 508.4 1088.6 508.0 1089.0 503.8 1089.5 504.1 1089.9 508.1 1090.4 509.1 1090.8 501.4 1091.3 503.9 1091.7 505.4 1092.2 507.8 1092.6 502.9 1093.1 506.4 1093.5 504.2 1094.0 509.2 1094.4 505.9 1094.9 504.6 1095.3 504.1 1095.8 507.4 1096.2 506.2 1096.7 501.7 1097.1 504.5 1097.6 500.5 1098.0 501.6 1098.5 500.1 1098.9 499.7 1099.4 500.9 1099.8 500.0 1100.3 503.3 1100.7 503.6 1101.2 500.9 1101.6 498.5 1102.1 502.8 1102.5 496.4 1103.0 496.1 1103.4 501.7 1103.9 501.3 1104.3 501.8 1104.8 498.6 1105.2 495.8 1105.7 497.4 1106.1 499.6 1106.6 496.3 1107.0 496.7 1107.5 495.3 1107.9 496.1 1108.4 501.1 1108.8 500.4 1109.3 496.7 1109.7 497.2 1110.2 498.6 1110.6 501.5 1111.1 497.6 1111.5 500.2 1112.0 496.7 1112.4 498.1 1112.9 502.3 1113.3 503.7 1113.8 499.0 1114.2 500.1 1114.7 503.9 1115.1 501.1 1115.6 500.9 1116.0 503.5 1116.5 502.8 1116.9 505.1 1117.4 504.4 1117.8 501.1 1118.3 502.3 1118.7 502.5 1119.2 499.5 1119.6 500.5 1120.1 505.2 1120.5 499.0 1121.0 505.2 1121.4 503.4 1121.9 502.4 1122.3 504.0 1122.8 503.8 1123.2 505.5 1123.7 501.6 1124.1 501.9 1124.6 501.9 1125.0 506.8 1125.5 504.6 1125.9 500.1 1126.4 501.5 1126.8 500.5 1127.3 502.2 1127.7 502.7 1128.2 506.5 1128.6 497.8 1129.1 504.5 1129.5 503.0 1130.0 500.2 1130.4 501.5 1130.9 500.6 1131.3 501.9 1131.8 504.2 1132.2 498.0 1132.7 504.8 1133.1 500.7 1133.6 505.2 1134.0 502.5 1134.5 504.5 1134.9 502.8 1135.4 504.0 1135.8 501.5 1136.3 499.3 1136.7 502.9 1137.2 503.0 1137.6 505.6 1138.1 496.9 1138.5 500.6 1139.0 503.6 1139.4 498.0 1139.9 500.4 1140.3 505.4 1140.8 504.3 1141.2 498.7 1141.7 504.2 1142.1 503.5 1142.6 502.5 1143.0 501.4 1143.5 501.0 1143.9 498.2 1144.4 499.0 1144.8 501.9 1145.3 500.4 1145.7 504.4 1146.2 499.1 1146.6 495.5 1147.1 498.9 1147.5 500.3 1148.0 500.4 1148.4 499.6 1148.9 497.3 1149.3 502.9 1149.8 497.5 1150.2 500.8 1150.7 498.3 1151.1 496.0 1151.6 502.2 1152.0 494.4 1152.5 496.5 1152.9 499.6 1153.4 497.6 1153.8 500.2 1154.3 498.0 1154.7 497.1 1155.2 502.5 1155.6 497.5 1156.1 497.5 1156.5 495.2 1157.0 495.9 1157.4 499.2 1157.9 498.9 1158.3 497.5 1158.8 495.7 1159.2 498.9 1159.7 493.0 1160.1 496.3 1160.6 496.4 1161.0 494.9 1161.5 497.2 1161.9 495.1 1162.4 494.7 1162.8 500.9 1163.3 498.3 1163.7 499.3 1164.2 496.4 1164.6 498.5 1165.1 497.9 1165.5 498.9 1166.0 500.2 1166.4 495.1 1166.9 496.2 1167.3 495.3 1167.8 491.0 1168.2 491.8 1168.7 495.2 1169.1 496.6 1169.6 493.5 1170.0 497.6 1170.5 497.8 1170.9 493.6 1171.4 497.9 1171.8 498.6 1172.3 495.4 1172.7 491.7 1173.2 497.6 1173.6 493.5 1174.1 492.9 1174.5 494.0 1175.0 492.3 1175.4 496.1 1175.9 495.3 1176.3 496.2 1176.8 494.6 1177.2 491.1 1177.7 492.5 1178.1 495.0 1178.6 491.7 1179.0 497.0 1179.5 491.9 1179.9 490.9 1180.4 495.1 1180.8 494.0 1181.3 492.0 1181.7 491.4 1182.2 492.9 1182.6 493.7 1183.1 493.5 1183.5 490.7 1184.0 492.4 1184.4 493.3 1184.9 492.9 1185.3 486.5 1185.8 488.5 1186.2 488.6 1186.7 489.8 1187.1 490.7 1187.6 492.3 1188.0 491.4 1188.5 489.4 1188.9 489.6 1189.4 493.7 1189.8 487.7 1190.3 489.8 1190.7 492.7 1191.2 489.5 1191.6 484.1 1192.1 489.3 1192.5 487.2 1193.0 487.7 1193.4 490.4 1193.9 488.8 1194.3 486.9 1194.8 489.5 1195.2 488.3 1195.7 487.3 1196.1 487.6 1196.6 487.3 1197.0 485.7 1197.5 485.2 1197.9 486.2 1198.4 483.7 1198.8 482.7 1199.3 488.9 1199.7 484.9 1200.2 485.3 1200.6 484.8 1201.1 485.1 1201.5 484.9 1202.0 485.0 1202.4 482.8 1202.9 487.1 1203.3 483.0 1203.8 487.3 1204.2 480.3 1204.7 482.0 1205.1 487.1 1205.6 484.2 1206.0 482.9 1206.5 485.4 1206.9 481.9 1207.4 484.6 1207.8 480.0 1208.3 483.3 1208.7 482.8 1209.2 485.7 1209.6 486.5 1210.1 482.1 1210.5 488.2 1211.0 482.7 1211.5 479.7 1211.9 479.7 1212.4 487.9 1212.8 483.8 1213.3 482.4 1213.8 482.1 1214.2 481.3 1214.7 487.3 1215.2 483.7 1215.6 488.3 1216.1 483.3 1216.6 479.2 1217.1 485.5 1217.5 482.2 1218.0 482.2 1218.5 486.4 1219.0 481.6 1219.4 484.9 1219.9 481.7 1220.4 479.6 1220.9 482.4 1221.4 479.4 1221.9 483.7 1222.3 482.7 1222.8 480.2 1223.3 481.3 1223.8 480.9 1224.3 478.5 1224.8 481.2 1225.3 478.1 1225.8 479.9 1226.3 475.7 1226.8 478.1 1227.3 478.5 1227.8 475.3 1228.3 475.9 1228.8 475.3 1229.3 478.2 1229.8 474.3 1230.3 476.9 1230.8 479.3 1231.3 476.1 1231.8 471.1 1232.3 475.2 1232.8 477.3 1233.3 473.9 1233.8 477.2 1234.4 475.8 1234.9 475.2 1235.4 473.3 1235.9 472.5 1236.4 473.0 1237.0 473.6 1237.5 474.6 1238.0 474.2 1238.5 472.2 1239.1 473.0 1239.6 473.6 1240.1 468.4 1240.6 470.4 1241.2 470.2 1241.7 471.5 1242.2 471.2 1242.8 471.0 1243.3 469.3 1243.9 473.0 1244.4 471.9 1244.9 466.9 1245.5 470.9 1246.0 467.9 1246.6 474.8 1247.1 469.2 1247.7 469.2 1248.2 470.2 1248.8 469.2 1249.3 469.2 1249.9 472.9 1250.4 469.3 1251.0 470.5 1251.5 470.9 1252.1 465.3 1252.7 471.6 1253.2 468.8 1253.8 469.1 1254.4 464.2 1254.9 468.1 1255.5 466.7 1256.1 464.0 1256.6 469.4 1257.2 466.1 1257.8 463.7 1258.4 464.5 1258.9 465.9 1259.5 465.9 1260.1 464.0 1260.7 464.9 1261.3 464.9 1261.9 457.8 1262.4 459.0 1263.0 457.4 1263.6 459.3 1264.2 461.9 1264.8 459.4 1265.4 454.8 1266.0 456.0 1266.6 458.5 1267.2 454.2 1267.8 454.6 1268.4 455.0 1269.0 449.4 1269.6 454.9 1270.2 452.9 1270.8 452.4 1271.4 447.7 1272.0 447.1 1272.7 446.5 1273.3 447.4 1273.9 445.9 1274.5 446.0 1275.1 450.3 1275.8 449.7 1276.4 445.6 1277.0 446.3 1277.6 452.2 1278.3 448.1 1278.9 452.5 1279.5 453.5 1280.2 449.1 1280.8 449.2 1281.4 448.3 1282.1 444.5 1282.7 442.5 1283.4 442.1 1284.0 443.2 1284.7 438.5 1285.3 437.3 1286.0 435.0 1286.6 431.3 1287.3 436.5 1287.9 428.7 1288.6 430.7 1289.2 432.9 1289.9 428.1 1290.6 431.9" fill="none" stroke="#000000" stroke-width="5.2" stroke-linejoin="round" stroke-linecap="round"/>
<path d="M1290.6 431.9L1291.2 432.8 1291.9 427.6 1292.6 429.4 1293.2 426.0 1293.9 429.0 1294.6 427.6 1295.3 427.3 1295.9 429.2 1296.6 426.7 1297.3 428.1 1298.0 425.4 1298.7 419.9 1299.4 421.4 1300.1 420.3 1300.7 414.6 1301.4 418.8 1302.1 414.5 1302.8 413.5 1303.5 409.2 1304.2 410.1 1304.9 410.2 1305.7 408.5 1306.4 409.0 1307.1 404.7 1307.8 411.0 1308.5 405.5 1309.2 403.7 1309.9 405.1 1310.7 405.0 1311.4 407.5 1312.1 404.1 1312.8 406.3 1313.6 403.6 1314.3 409.0 1315.0 406.4 1315.8 408.8 1316.5 403.0 1317.2 406.3 1318.0 402.9 1318.7 405.8 1319.5 405.9 1320.2 401.3 1321.0 402.1 1321.7 401.9 1322.5 401.1 1323.3 402.5 1324.0 401.9 1324.8 400.8 1325.5 403.6 1326.3 403.5 1327.1 399.1 1327.9 399.6 1328.6 399.8 1329.4 398.5 1331.9 395.7 1333.0 401.5 1334.0 405.4 1335.1 407.7 1336.3 407.0 1337.6 411.6 1338.8 408.1 1340.2 409.1 1341.7 412.2 1343.1 417.5 1344.6 417.1 1346.0 413.5 1347.5 407.9 1349.0 408.5 1350.4 411.6 1351.9 413.6 1353.1 417.7 1354.4 419.3 1355.6 429.0 1356.9 431.0 1358.3 430.2 1359.6 428.0 1361.0 429.3 1362.3 429.6 1363.7 428.8 1365.0 426.8 1366.5 427.4 1367.9 433.1 1369.4 434.8 1370.9 431.7 1372.3 431.0 1373.8 432.7 1375.3 438.3 1376.7 436.7 1378.2 443.8 1379.7 444.4 1381.1 438.6 1382.5 436.6 1384.0 435.7 1385.5 440.0 1387.0 439.3 1388.4 440.0 1389.9 444.6 1391.4 439.7 1392.8 443.8 1394.2 445.5 1395.7 443.2 1397.1 443.7 1398.6 441.8 1400.1 443.0 1401.5 441.8 1403.0 439.6 1404.4 440.8 1405.9 441.2 1407.4 445.7 1408.8 448.3 1410.3 447.5 1411.8 448.1 1413.2 448.1 1414.7 450.4 1416.1 454.9 1417.6 453.3 1419.1 450.7 1420.5 446.9 1422.0 448.0 1423.5 443.9 1425.0 445.7 1426.4 448.1 1427.8 453.4 1429.3 451.9 1430.8 456.5 1432.2 456.5 1433.6 455.0 1435.1 456.3 1436.6 452.9 1438.0 448.7 1439.5 447.2 1441.0 444.6 1442.5 451.0 1443.9 454.9 1445.4 453.2 1446.8 450.9 1448.3 439.8 1449.7 444.2 1451.2 440.0 1452.7 443.7 1454.1 444.1 1455.6 448.7 1457.1 449.7 1458.5 441.5 1460.0 443.3 1461.5 444.0 1462.9 441.0 1464.3 447.2 1465.8 446.8 1467.2 446.5 1468.7 448.2 1470.2 454.4 1471.6 446.1 1473.1 442.3 1474.5 443.4 1476.0 444.4 1477.5 443.2 1479.0 443.2 1480.4 440.6 1481.9 442.5 1483.2 439.4 1484.5 435.8 1485.7 435.2 1487.0 434.9 1488.3 437.8 1489.6 438.0 1490.9 437.2 1492.2 438.9 1493.5 439.9 1494.8 444.7 1496.1 439.7 1497.5 442.6 1498.8 443.7 1500.1 442.4 1501.4 440.6 1502.7 438.1 1504.1 434.2 1505.4 433.9 1506.7 430.6 1508.2 434.5 1509.6 433.6 1511.0 436.3 1512.5 438.8 1513.8 436.0 1515.1 439.2 1516.5 441.0 1517.8 439.9 1519.1 440.2 1520.4 438.0 1521.7 436.8 1523.1 435.6 1524.4 430.0 1525.7 428.2 1527.2 428.5 1528.6 428.2 1530.0 429.5 1531.5 429.5 1532.8 429.4 1534.0 429.3 1535.3 427.1 1536.6 421.9 1537.9 420.4 1539.2 426.5 1540.4 422.8 1541.7 425.3" fill="none" stroke="#000000" stroke-width="5.0" stroke-linejoin="round" stroke-linecap="round"/>
</g>
<rect x="93.7" y="74.2" width="662.0" height="486.6" class="ax"/>
<path class="tk" d="M204.0 560.8V547.4M204.0 74.2V87.6M341.9 560.8V547.4M341.9 74.2V87.6M479.9 560.8V547.4M479.9 74.2V87.6M617.8 560.8V547.4M617.8 74.2V87.6M135.1 560.8V553.8M135.1 74.2V81.2M273.0 560.8V553.8M273.0 74.2V81.2M410.9 560.8V553.8M410.9 74.2V81.2M548.8 560.8V553.8M548.8 74.2V81.2M686.7 560.8V553.8M686.7 74.2V81.2M93.7 465.3H107.1M755.7 465.3H742.3M93.7 369.8H107.1M755.7 369.8H742.3M93.7 274.4H107.1M755.7 274.4H742.3M93.7 178.9H107.1M755.7 178.9H742.3M93.7 83.4H107.1M755.7 83.4H742.3M93.7 513.1H100.7M755.7 513.1H748.7M93.7 417.6H100.7M755.7 417.6H748.7M93.7 322.1H100.7M755.7 322.1H748.7M93.7 226.6H100.7M755.7 226.6H748.7M93.7 131.1H100.7M755.7 131.1H748.7"/>
<rect x="893.3" y="74.3" width="661.6" height="487.3" class="ax"/>
<path class="tk" d="M900.5 561.6V548.2M982.3 561.6V548.2M1064.1 561.6V548.2M1145.9 561.6V548.2M1227.7 561.6V548.2M1309.5 561.6V548.2M1391.3 561.6V548.2M1473.1 561.6V548.2M941.4 561.6V554.6M1023.2 561.6V554.6M1105.0 561.6V554.6M1186.8 561.6V554.6M1268.6 561.6V554.6M1350.4 561.6V554.6M1432.2 561.6V554.6M1514.0 561.6V554.6M893.3 492.0H906.7M1554.9 492.0H1541.5M893.3 422.4H906.7M1554.9 422.4H1541.5M893.3 352.8H906.7M1554.9 352.8H1541.5M893.3 283.1H906.7M1554.9 283.1H1541.5M893.3 213.5H906.7M1554.9 213.5H1541.5M893.3 143.9H906.7M1554.9 143.9H1541.5M893.3 526.8H900.3M1554.9 526.8H1547.9M893.3 457.2H900.3M1554.9 457.2H1547.9M893.3 387.6H900.3M1554.9 387.6H1547.9M893.3 318.0H900.3M1554.9 318.0H1547.9M893.3 248.3H900.3M1554.9 248.3H1547.9M893.3 178.7H900.3M1554.9 178.7H1547.9M893.3 109.1H900.3M1554.9 109.1H1547.9"/>
<text class="pl" x="0.1" y="42.8" textLength="48.5" lengthAdjust="spacingAndGlyphs">a)</text>
<text class="pl" x="829.1" y="43.4" textLength="49.6" lengthAdjust="spacingAndGlyphs">b)</text>
<text class="tl" x="204.0" y="597.5" text-anchor="middle">10</text>
<text class="tl" x="341.9" y="597.5" text-anchor="middle">15</text>
<text class="tl" x="479.9" y="597.5" text-anchor="middle">20</text>
<text class="tl" x="617.8" y="597.5" text-anchor="middle">25</text>
<text class="tl" x="755.7" y="597.5" text-anchor="middle">30</text>
<text class="tl" x="900.5" y="598.0" text-anchor="middle">5</text>
<text class="tl" x="982.3" y="598.0" text-anchor="middle">10</text>
<text class="tl" x="1064.1" y="598.0" text-anchor="middle">15</text>
<text class="tl" x="1145.9" y="598.0" text-anchor="middle">20</text>
<text class="tl" x="1227.7" y="598.0" text-anchor="middle">25</text>
<text class="tl" x="1309.5" y="598.0" text-anchor="middle">30</text>
<text class="tl" x="1391.3" y="598.0" text-anchor="middle">35</text>
<text class="tl" x="1473.1" y="598.0" text-anchor="middle">40</text>
<text class="tl" x="1554.9" y="598.0" text-anchor="middle">45</text>
<text class="at" x="323.5" y="642.5" textLength="201.0" lengthAdjust="spacingAndGlyphs">d-space <tspan class="rp">(</tspan>Å<tspan class="rp">)</tspan></text>
<text class="at" x="1121.8" y="643.8" textLength="202.0" lengthAdjust="spacingAndGlyphs">d-space <tspan class="rp">(</tspan>Å<tspan class="rp">)</tspan></text>
<text class="at" transform="translate(64.6 428.5) rotate(-90)" textLength="248" lengthAdjust="spacingAndGlyphs">Intensity <tspan class="rp">(</tspan>a.u.<tspan class="rp">)</tspan></text>
<path d="M122 120.0H179" stroke="#0000ff" stroke-width="4.4" stroke-linecap="round"/>
<path d="M122 155.0H179" stroke="#ff0000" stroke-width="4.4" stroke-linecap="round"/>
<path d="M122 190.0H179" stroke="#000000" stroke-width="4.4" stroke-linecap="round"/>
<text class="lg" x="186.5" y="127.2" textLength="225.5" lengthAdjust="spacingAndGlyphs">PBTTT drop-cast</text>
<text class="lg" x="186.5" y="162.5" textLength="237.5" lengthAdjust="spacingAndGlyphs">PBTTT slow-dried</text>
<text class="lg" x="186.5" y="197.8" textLength="219.7" lengthAdjust="spacingAndGlyphs">PBTTT spin-cast</text>
<text class="pk" x="116.0" y="306.7" textLength="65.0" lengthAdjust="spacingAndGlyphs">&lt;300&gt;</text>
<text class="pk" x="231.0" y="279.2" textLength="65.0" lengthAdjust="spacingAndGlyphs">&lt;200&gt;</text>
<text class="pk" x="537.0" y="102.2" textLength="65.0" lengthAdjust="spacingAndGlyphs">&lt;100&gt;</text>
<path d="M901.5 88.9H957.9" stroke="#0000ff" stroke-width="4.8" stroke-linecap="round"/>
<text class="lb" x="964.0" y="97.1" textLength="263.5" lengthAdjust="spacingAndGlyphs">Bilayer &quot;PBTTT drop-cast&quot;</text>
<path d="M905.0 254.4H960.7" stroke="#ff0000" stroke-width="4.8" stroke-linecap="round"/>
<text class="lb" x="968.0" y="260.6" textLength="273.5" lengthAdjust="spacingAndGlyphs">Bilayer &quot;PBTTT slow-dried&quot;</text>
<path d="M919.4 416.7H974.0" stroke="#000000" stroke-width="4.8" stroke-linecap="round"/>
<text class="lb" x="982.4" y="424.7" textLength="259.0" lengthAdjust="spacingAndGlyphs">Bilayer &quot;PBTTT spin-cast&quot;</text>
<text class="an" x="1345.3" y="344.3">d<tspan dy="4.2" style="font-size:24px">100</tspan><tspan dy="-4.2"> </tspan></text>
<text class="an" x="1404.5" y="344.3" textLength="128.0" lengthAdjust="spacingAndGlyphs">intercalated</text>
<path d="M1378.2 369.9L1360 376.3" stroke="#000" stroke-width="1.4" stroke-linecap="round"/>
<path d="M1349.4 380.3L1359.8 373.6L1362.4 379.8Z" fill="#000"/>
</svg>
</body></html>
